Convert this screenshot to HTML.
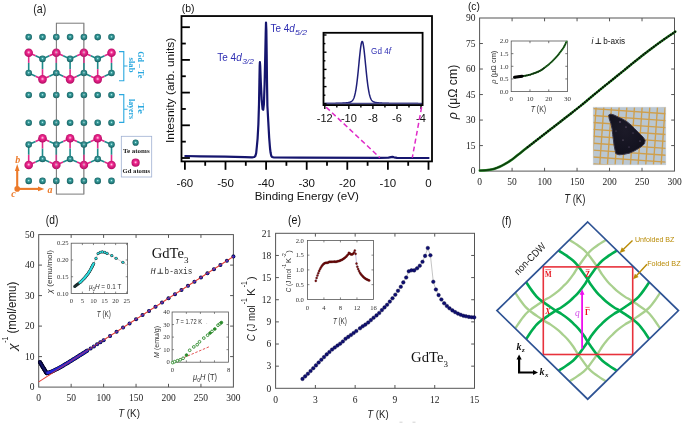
<!DOCTYPE html>
<html><head><meta charset="utf-8"><style>
html,body{margin:0;padding:0;background:#fff;width:685px;height:424px;overflow:hidden}
svg{display:block;will-change:transform}
</style></head><body>
<svg width="685" height="424" viewBox="0 0 685 424">
<rect width="685" height="424" fill="#fff"/>
<defs>
<radialGradient id="gTe" cx="0.5" cy="0.45" r="0.55">
 <stop offset="0" stop-color="#c8f4f2"/><stop offset="0.3" stop-color="#3a9f9f"/><stop offset="1" stop-color="#125c5d"/>
</radialGradient>
<radialGradient id="gGd" cx="0.5" cy="0.45" r="0.55">
 <stop offset="0" stop-color="#ffd0ea"/><stop offset="0.35" stop-color="#f0288f"/><stop offset="1" stop-color="#b00a62"/>
</radialGradient>
<clipPath id="dia"><polygon points="587.7,222 678.45,310.6 587.7,399.2 496.95,310.6"/></clipPath>

</defs>
<text x="33.30" y="12.90" style="font-family:'Liberation Sans',sans-serif;font-size:12px" fill="#1a1a1a" textLength="13.00" lengthAdjust="spacingAndGlyphs" >(a)</text>
<rect x="56.4" y="23.2" width="27.4" height="170.9" fill="none" stroke="#7a7a7a" stroke-width="1"/>
<line x1="84.3" y1="23.2" x2="84.3" y2="194.1" stroke="#c8c8c8" stroke-width="1"/>
<line x1="28.70" y1="52.80" x2="28.70" y2="62.90" stroke="#e0288a" stroke-width="1.6" />
<line x1="28.70" y1="62.90" x2="28.70" y2="73.00" stroke="#1d8a8a" stroke-width="1.6" />
<line x1="42.50" y1="58.90" x2="42.50" y2="69.15" stroke="#1d8a8a" stroke-width="1.6" />
<line x1="42.50" y1="69.15" x2="42.50" y2="79.40" stroke="#e0288a" stroke-width="1.6" />
<line x1="56.30" y1="52.80" x2="56.30" y2="62.90" stroke="#e0288a" stroke-width="1.6" />
<line x1="56.30" y1="62.90" x2="56.30" y2="73.00" stroke="#1d8a8a" stroke-width="1.6" />
<line x1="70.10" y1="58.90" x2="70.10" y2="69.15" stroke="#1d8a8a" stroke-width="1.6" />
<line x1="70.10" y1="69.15" x2="70.10" y2="79.40" stroke="#e0288a" stroke-width="1.6" />
<line x1="83.90" y1="52.80" x2="83.90" y2="62.90" stroke="#e0288a" stroke-width="1.6" />
<line x1="83.90" y1="62.90" x2="83.90" y2="73.00" stroke="#1d8a8a" stroke-width="1.6" />
<line x1="97.70" y1="58.90" x2="97.70" y2="69.15" stroke="#1d8a8a" stroke-width="1.6" />
<line x1="97.70" y1="69.15" x2="97.70" y2="79.40" stroke="#e0288a" stroke-width="1.6" />
<line x1="111.50" y1="52.80" x2="111.50" y2="62.90" stroke="#e0288a" stroke-width="1.6" />
<line x1="111.50" y1="62.90" x2="111.50" y2="73.00" stroke="#1d8a8a" stroke-width="1.6" />
<line x1="28.70" y1="52.80" x2="35.60" y2="55.85" stroke="#e0288a" stroke-width="1.6" />
<line x1="35.60" y1="55.85" x2="42.50" y2="58.90" stroke="#1d8a8a" stroke-width="1.6" />
<line x1="28.70" y1="73.00" x2="35.60" y2="76.20" stroke="#1d8a8a" stroke-width="1.6" />
<line x1="35.60" y1="76.20" x2="42.50" y2="79.40" stroke="#e0288a" stroke-width="1.6" />
<line x1="42.50" y1="58.90" x2="49.40" y2="55.85" stroke="#1d8a8a" stroke-width="1.6" />
<line x1="49.40" y1="55.85" x2="56.30" y2="52.80" stroke="#e0288a" stroke-width="1.6" />
<line x1="42.50" y1="79.40" x2="49.40" y2="76.20" stroke="#e0288a" stroke-width="1.6" />
<line x1="49.40" y1="76.20" x2="56.30" y2="73.00" stroke="#1d8a8a" stroke-width="1.6" />
<line x1="56.30" y1="52.80" x2="63.20" y2="55.85" stroke="#e0288a" stroke-width="1.6" />
<line x1="63.20" y1="55.85" x2="70.10" y2="58.90" stroke="#1d8a8a" stroke-width="1.6" />
<line x1="56.30" y1="73.00" x2="63.20" y2="76.20" stroke="#1d8a8a" stroke-width="1.6" />
<line x1="63.20" y1="76.20" x2="70.10" y2="79.40" stroke="#e0288a" stroke-width="1.6" />
<line x1="70.10" y1="58.90" x2="77.00" y2="55.85" stroke="#1d8a8a" stroke-width="1.6" />
<line x1="77.00" y1="55.85" x2="83.90" y2="52.80" stroke="#e0288a" stroke-width="1.6" />
<line x1="70.10" y1="79.40" x2="77.00" y2="76.20" stroke="#e0288a" stroke-width="1.6" />
<line x1="77.00" y1="76.20" x2="83.90" y2="73.00" stroke="#1d8a8a" stroke-width="1.6" />
<line x1="83.90" y1="52.80" x2="90.80" y2="55.85" stroke="#e0288a" stroke-width="1.6" />
<line x1="90.80" y1="55.85" x2="97.70" y2="58.90" stroke="#1d8a8a" stroke-width="1.6" />
<line x1="83.90" y1="73.00" x2="90.80" y2="76.20" stroke="#1d8a8a" stroke-width="1.6" />
<line x1="90.80" y1="76.20" x2="97.70" y2="79.40" stroke="#e0288a" stroke-width="1.6" />
<line x1="97.70" y1="58.90" x2="104.60" y2="55.85" stroke="#1d8a8a" stroke-width="1.6" />
<line x1="104.60" y1="55.85" x2="111.50" y2="52.80" stroke="#e0288a" stroke-width="1.6" />
<line x1="97.70" y1="79.40" x2="104.60" y2="76.20" stroke="#e0288a" stroke-width="1.6" />
<line x1="104.60" y1="76.20" x2="111.50" y2="73.00" stroke="#1d8a8a" stroke-width="1.6" />
<line x1="28.70" y1="144.60" x2="28.70" y2="154.80" stroke="#1d8a8a" stroke-width="1.6" />
<line x1="28.70" y1="154.80" x2="28.70" y2="165.00" stroke="#e0288a" stroke-width="1.6" />
<line x1="42.50" y1="138.20" x2="42.50" y2="148.60" stroke="#e0288a" stroke-width="1.6" />
<line x1="42.50" y1="148.60" x2="42.50" y2="159.00" stroke="#1d8a8a" stroke-width="1.6" />
<line x1="56.30" y1="144.60" x2="56.30" y2="154.80" stroke="#1d8a8a" stroke-width="1.6" />
<line x1="56.30" y1="154.80" x2="56.30" y2="165.00" stroke="#e0288a" stroke-width="1.6" />
<line x1="70.10" y1="138.20" x2="70.10" y2="148.60" stroke="#e0288a" stroke-width="1.6" />
<line x1="70.10" y1="148.60" x2="70.10" y2="159.00" stroke="#1d8a8a" stroke-width="1.6" />
<line x1="83.90" y1="144.60" x2="83.90" y2="154.80" stroke="#1d8a8a" stroke-width="1.6" />
<line x1="83.90" y1="154.80" x2="83.90" y2="165.00" stroke="#e0288a" stroke-width="1.6" />
<line x1="97.70" y1="138.20" x2="97.70" y2="148.60" stroke="#e0288a" stroke-width="1.6" />
<line x1="97.70" y1="148.60" x2="97.70" y2="159.00" stroke="#1d8a8a" stroke-width="1.6" />
<line x1="111.50" y1="144.60" x2="111.50" y2="154.80" stroke="#1d8a8a" stroke-width="1.6" />
<line x1="111.50" y1="154.80" x2="111.50" y2="165.00" stroke="#e0288a" stroke-width="1.6" />
<line x1="28.70" y1="144.60" x2="35.60" y2="141.40" stroke="#1d8a8a" stroke-width="1.6" />
<line x1="35.60" y1="141.40" x2="42.50" y2="138.20" stroke="#e0288a" stroke-width="1.6" />
<line x1="28.70" y1="165.00" x2="35.60" y2="162.00" stroke="#e0288a" stroke-width="1.6" />
<line x1="35.60" y1="162.00" x2="42.50" y2="159.00" stroke="#1d8a8a" stroke-width="1.6" />
<line x1="42.50" y1="138.20" x2="49.40" y2="141.40" stroke="#e0288a" stroke-width="1.6" />
<line x1="49.40" y1="141.40" x2="56.30" y2="144.60" stroke="#1d8a8a" stroke-width="1.6" />
<line x1="42.50" y1="159.00" x2="49.40" y2="162.00" stroke="#1d8a8a" stroke-width="1.6" />
<line x1="49.40" y1="162.00" x2="56.30" y2="165.00" stroke="#e0288a" stroke-width="1.6" />
<line x1="56.30" y1="144.60" x2="63.20" y2="141.40" stroke="#1d8a8a" stroke-width="1.6" />
<line x1="63.20" y1="141.40" x2="70.10" y2="138.20" stroke="#e0288a" stroke-width="1.6" />
<line x1="56.30" y1="165.00" x2="63.20" y2="162.00" stroke="#e0288a" stroke-width="1.6" />
<line x1="63.20" y1="162.00" x2="70.10" y2="159.00" stroke="#1d8a8a" stroke-width="1.6" />
<line x1="70.10" y1="138.20" x2="77.00" y2="141.40" stroke="#e0288a" stroke-width="1.6" />
<line x1="77.00" y1="141.40" x2="83.90" y2="144.60" stroke="#1d8a8a" stroke-width="1.6" />
<line x1="70.10" y1="159.00" x2="77.00" y2="162.00" stroke="#1d8a8a" stroke-width="1.6" />
<line x1="77.00" y1="162.00" x2="83.90" y2="165.00" stroke="#e0288a" stroke-width="1.6" />
<line x1="83.90" y1="144.60" x2="90.80" y2="141.40" stroke="#1d8a8a" stroke-width="1.6" />
<line x1="90.80" y1="141.40" x2="97.70" y2="138.20" stroke="#e0288a" stroke-width="1.6" />
<line x1="83.90" y1="165.00" x2="90.80" y2="162.00" stroke="#e0288a" stroke-width="1.6" />
<line x1="90.80" y1="162.00" x2="97.70" y2="159.00" stroke="#1d8a8a" stroke-width="1.6" />
<line x1="97.70" y1="138.20" x2="104.60" y2="141.40" stroke="#e0288a" stroke-width="1.6" />
<line x1="104.60" y1="141.40" x2="111.50" y2="144.60" stroke="#1d8a8a" stroke-width="1.6" />
<line x1="97.70" y1="159.00" x2="104.60" y2="162.00" stroke="#1d8a8a" stroke-width="1.6" />
<line x1="104.60" y1="162.00" x2="111.50" y2="165.00" stroke="#e0288a" stroke-width="1.6" />
<circle cx="28.70" cy="52.80" r="4.3" fill="url(#gGd)"/>
<circle cx="28.70" cy="73.00" r="3.3" fill="url(#gTe)"/>
<circle cx="42.50" cy="58.90" r="3.3" fill="url(#gTe)"/>
<circle cx="42.50" cy="79.40" r="4.3" fill="url(#gGd)"/>
<circle cx="56.30" cy="52.80" r="4.3" fill="url(#gGd)"/>
<circle cx="56.30" cy="73.00" r="3.3" fill="url(#gTe)"/>
<circle cx="70.10" cy="58.90" r="3.3" fill="url(#gTe)"/>
<circle cx="70.10" cy="79.40" r="4.3" fill="url(#gGd)"/>
<circle cx="83.90" cy="52.80" r="4.3" fill="url(#gGd)"/>
<circle cx="83.90" cy="73.00" r="3.3" fill="url(#gTe)"/>
<circle cx="97.70" cy="58.90" r="3.3" fill="url(#gTe)"/>
<circle cx="97.70" cy="79.40" r="4.3" fill="url(#gGd)"/>
<circle cx="111.50" cy="52.80" r="4.3" fill="url(#gGd)"/>
<circle cx="111.50" cy="73.00" r="3.3" fill="url(#gTe)"/>
<circle cx="28.70" cy="144.60" r="3.3" fill="url(#gTe)"/>
<circle cx="28.70" cy="165.00" r="4.3" fill="url(#gGd)"/>
<circle cx="42.50" cy="138.20" r="4.3" fill="url(#gGd)"/>
<circle cx="42.50" cy="159.00" r="3.3" fill="url(#gTe)"/>
<circle cx="56.30" cy="144.60" r="3.3" fill="url(#gTe)"/>
<circle cx="56.30" cy="165.00" r="4.3" fill="url(#gGd)"/>
<circle cx="70.10" cy="138.20" r="4.3" fill="url(#gGd)"/>
<circle cx="70.10" cy="159.00" r="3.3" fill="url(#gTe)"/>
<circle cx="83.90" cy="144.60" r="3.3" fill="url(#gTe)"/>
<circle cx="83.90" cy="165.00" r="4.3" fill="url(#gGd)"/>
<circle cx="97.70" cy="138.20" r="4.3" fill="url(#gGd)"/>
<circle cx="97.70" cy="159.00" r="3.3" fill="url(#gTe)"/>
<circle cx="111.50" cy="144.60" r="3.3" fill="url(#gTe)"/>
<circle cx="111.50" cy="165.00" r="4.3" fill="url(#gGd)"/>
<circle cx="28.70" cy="37.10" r="3.3" fill="url(#gTe)"/>
<circle cx="42.50" cy="37.10" r="3.3" fill="url(#gTe)"/>
<circle cx="56.30" cy="37.10" r="3.3" fill="url(#gTe)"/>
<circle cx="70.10" cy="37.10" r="3.3" fill="url(#gTe)"/>
<circle cx="83.90" cy="37.10" r="3.3" fill="url(#gTe)"/>
<circle cx="97.70" cy="37.10" r="3.3" fill="url(#gTe)"/>
<circle cx="111.50" cy="37.10" r="3.3" fill="url(#gTe)"/>
<circle cx="28.70" cy="95.00" r="3.3" fill="url(#gTe)"/>
<circle cx="42.50" cy="95.00" r="3.3" fill="url(#gTe)"/>
<circle cx="56.30" cy="95.00" r="3.3" fill="url(#gTe)"/>
<circle cx="70.10" cy="95.00" r="3.3" fill="url(#gTe)"/>
<circle cx="83.90" cy="95.00" r="3.3" fill="url(#gTe)"/>
<circle cx="97.70" cy="95.00" r="3.3" fill="url(#gTe)"/>
<circle cx="111.50" cy="95.00" r="3.3" fill="url(#gTe)"/>
<circle cx="28.70" cy="122.70" r="3.3" fill="url(#gTe)"/>
<circle cx="42.50" cy="122.70" r="3.3" fill="url(#gTe)"/>
<circle cx="56.30" cy="122.70" r="3.3" fill="url(#gTe)"/>
<circle cx="70.10" cy="122.70" r="3.3" fill="url(#gTe)"/>
<circle cx="83.90" cy="122.70" r="3.3" fill="url(#gTe)"/>
<circle cx="97.70" cy="122.70" r="3.3" fill="url(#gTe)"/>
<circle cx="111.50" cy="122.70" r="3.3" fill="url(#gTe)"/>
<circle cx="28.70" cy="180.90" r="3.3" fill="url(#gTe)"/>
<circle cx="42.50" cy="180.90" r="3.3" fill="url(#gTe)"/>
<circle cx="56.30" cy="180.90" r="3.3" fill="url(#gTe)"/>
<circle cx="70.10" cy="180.90" r="3.3" fill="url(#gTe)"/>
<circle cx="83.90" cy="180.90" r="3.3" fill="url(#gTe)"/>
<circle cx="97.70" cy="180.90" r="3.3" fill="url(#gTe)"/>
<circle cx="111.50" cy="180.90" r="3.3" fill="url(#gTe)"/>
<path d="M56.4,23.2 V194.1 M83.8,23.2 V194.1" stroke="#7a7a7a" stroke-width="0.8" opacity="0.45" fill="none"/>
<path d="M119,51.6 H123.8 V80.7 H119 M123.8,66 H127.5" fill="none" stroke="#2aa8df" stroke-width="1.1"/>
<path d="M119,94.6 H123.8 V122.4 H119 M123.8,109.2 H127.5" fill="none" stroke="#2aa8df" stroke-width="1.1"/>
<text x="138.30" y="64.80" style="font-family:'Liberation Serif',serif;font-size:8.4px;font-weight:bold" fill="#2aa8df" text-anchor="middle" textLength="27.00" lengthAdjust="spacingAndGlyphs" transform="rotate(90 138.30 64.80)" >Gd – Te</text>
<text x="129.00" y="65.00" style="font-family:'Liberation Serif',serif;font-size:8.4px;font-weight:bold" fill="#2aa8df" text-anchor="middle" textLength="15.00" lengthAdjust="spacingAndGlyphs" transform="rotate(90 129.00 65.00)" >slab</text>
<text x="138.30" y="108.60" style="font-family:'Liberation Serif',serif;font-size:8.4px;font-weight:bold" fill="#2aa8df" text-anchor="middle" textLength="10.80" lengthAdjust="spacingAndGlyphs" transform="rotate(90 138.30 108.60)" >Te</text>
<text x="129.00" y="109.00" style="font-family:'Liberation Serif',serif;font-size:8.4px;font-weight:bold" fill="#2aa8df" text-anchor="middle" textLength="20.00" lengthAdjust="spacingAndGlyphs" transform="rotate(90 129.00 109.00)" >layers</text>
<rect x="121.3" y="136.3" width="30.4" height="40.7" fill="#fff" stroke="#9fb0d2" stroke-width="0.8"/>
<circle cx="135.6" cy="142.7" r="3.1" fill="url(#gTe)"/>
<circle cx="135.6" cy="162.7" r="4.1" fill="url(#gGd)"/>
<text x="136.30" y="153.10" style="font-family:'Liberation Serif',serif;font-size:6.9px;font-weight:bold" fill="#222" text-anchor="middle" textLength="26.80" lengthAdjust="spacingAndGlyphs" >Te atoms</text>
<text x="136.30" y="172.50" style="font-family:'Liberation Serif',serif;font-size:6.9px;font-weight:bold" fill="#222" text-anchor="middle" textLength="27.50" lengthAdjust="spacingAndGlyphs" >Gd atoms</text>
<line x1="17.20" y1="188.90" x2="17.20" y2="170.50" stroke="#ec7a2a" stroke-width="2.1" />
<line x1="17.20" y1="188.90" x2="39.00" y2="188.90" stroke="#ec7a2a" stroke-width="2.1" />
<polygon points="17.2,164 14.9,171 19.5,171" fill="#ec7a2a"/>
<polygon points="44.4,188.9 38,186.6 38,191.2" fill="#ec7a2a"/>
<circle cx="17.2" cy="188.9" r="2.8" fill="#ec7a2a"/>
<text x="15.30" y="162.80" style="font-family:'Liberation Serif',serif;font-size:10px;font-weight:bold;font-style:italic" fill="#ec7a2a" >b</text>
<text x="47.60" y="193.30" style="font-family:'Liberation Serif',serif;font-size:10px;font-weight:bold;font-style:italic" fill="#ec7a2a" >a</text>
<text x="11.20" y="196.60" style="font-family:'Liberation Serif',serif;font-size:10px;font-weight:bold;font-style:italic" fill="#ec7a2a" >c</text>
<text x="181.70" y="11.60" style="font-family:'Liberation Sans',sans-serif;font-size:11.5px" fill="#111" textLength="12.80" lengthAdjust="spacingAndGlyphs" >(b)</text>
<polyline points="185.30,156.00 200.00,156.30 225.00,156.70 245.00,157.10 252.00,157.30 254.30,157.00 255.40,155.90 256.20,153.00 256.90,146.00 257.60,138.50 258.40,124.00 259.00,104.00 259.40,82.00 259.70,66.00 259.90,62.20 260.20,66.00 260.80,82.00 261.70,100.00 262.60,109.20 263.20,109.80 263.90,104.00 264.60,84.00 265.20,58.00 265.70,34.00 266.00,22.60 266.35,30.00 266.70,55.00 267.00,82.00 267.40,106.00 268.30,122.00 269.20,138.00 270.00,148.00 270.60,152.80 271.20,155.60 272.00,157.00 274.00,157.50 300.00,157.70 380.00,157.90 388.50,157.70 391.00,157.20 392.50,156.90 394.00,157.30 397.00,157.80 428.50,158.00" fill="none" stroke="#15156e" stroke-width="2.2" stroke-linejoin="round" stroke-linecap="round" />
<rect x="181.5" y="16.05" width="250.5" height="145.35" fill="none" stroke="#000" stroke-width="1.8"/>
<line x1="181.50" y1="27.20" x2="189.90" y2="27.20" stroke="#000" stroke-width="1.8" />
<line x1="181.50" y1="43.55" x2="185.80" y2="43.55" stroke="#000" stroke-width="1.8" />
<line x1="181.50" y1="59.90" x2="189.90" y2="59.90" stroke="#000" stroke-width="1.8" />
<line x1="181.50" y1="76.25" x2="185.80" y2="76.25" stroke="#000" stroke-width="1.8" />
<line x1="181.50" y1="92.60" x2="189.90" y2="92.60" stroke="#000" stroke-width="1.8" />
<line x1="181.50" y1="108.95" x2="185.80" y2="108.95" stroke="#000" stroke-width="1.8" />
<line x1="181.50" y1="125.30" x2="189.90" y2="125.30" stroke="#000" stroke-width="1.8" />
<line x1="181.50" y1="141.65" x2="185.80" y2="141.65" stroke="#000" stroke-width="1.8" />
<line x1="181.50" y1="158.00" x2="189.90" y2="158.00" stroke="#000" stroke-width="1.8" />
<line x1="184.90" y1="161.40" x2="184.90" y2="169.80" stroke="#000" stroke-width="1.8" />
<line x1="205.20" y1="161.40" x2="205.20" y2="165.80" stroke="#000" stroke-width="1.8" />
<line x1="225.50" y1="161.40" x2="225.50" y2="169.80" stroke="#000" stroke-width="1.8" />
<line x1="245.80" y1="161.40" x2="245.80" y2="165.80" stroke="#000" stroke-width="1.8" />
<line x1="266.10" y1="161.40" x2="266.10" y2="169.80" stroke="#000" stroke-width="1.8" />
<line x1="286.40" y1="161.40" x2="286.40" y2="165.80" stroke="#000" stroke-width="1.8" />
<line x1="306.70" y1="161.40" x2="306.70" y2="169.80" stroke="#000" stroke-width="1.8" />
<line x1="327.00" y1="161.40" x2="327.00" y2="165.80" stroke="#000" stroke-width="1.8" />
<line x1="347.30" y1="161.40" x2="347.30" y2="169.80" stroke="#000" stroke-width="1.8" />
<line x1="367.60" y1="161.40" x2="367.60" y2="165.80" stroke="#000" stroke-width="1.8" />
<line x1="387.90" y1="161.40" x2="387.90" y2="169.80" stroke="#000" stroke-width="1.8" />
<line x1="408.20" y1="161.40" x2="408.20" y2="165.80" stroke="#000" stroke-width="1.8" />
<line x1="428.50" y1="161.40" x2="428.50" y2="169.80" stroke="#000" stroke-width="1.8" />
<text x="184.90" y="187.20" style="font-family:'Liberation Sans',sans-serif;font-size:11.5px" fill="#111" text-anchor="middle" >-60</text>
<text x="225.50" y="187.20" style="font-family:'Liberation Sans',sans-serif;font-size:11.5px" fill="#111" text-anchor="middle" >-50</text>
<text x="266.10" y="187.20" style="font-family:'Liberation Sans',sans-serif;font-size:11.5px" fill="#111" text-anchor="middle" >-40</text>
<text x="306.70" y="187.20" style="font-family:'Liberation Sans',sans-serif;font-size:11.5px" fill="#111" text-anchor="middle" >-30</text>
<text x="347.30" y="187.20" style="font-family:'Liberation Sans',sans-serif;font-size:11.5px" fill="#111" text-anchor="middle" >-20</text>
<text x="387.90" y="187.20" style="font-family:'Liberation Sans',sans-serif;font-size:11.5px" fill="#111" text-anchor="middle" >-10</text>
<text x="428.50" y="187.20" style="font-family:'Liberation Sans',sans-serif;font-size:11.5px" fill="#111" text-anchor="middle" >0</text>
<text x="306.85" y="199.90" style="font-family:'Liberation Sans',sans-serif;font-size:11.5px" fill="#111" text-anchor="middle" textLength="104.00" lengthAdjust="spacingAndGlyphs" >Binding Energy (eV)</text>
<text x="174.10" y="90.40" style="font-family:'Liberation Sans',sans-serif;font-size:11px" fill="#111" text-anchor="middle" textLength="105.40" lengthAdjust="spacingAndGlyphs" transform="rotate(-90 174.10 90.40)" >Intesnity (arb. units)</text>
<text x="270.6" y="31.8" style="font-family:'Liberation Sans',sans-serif;font-size:10.4px" fill="#2d2db2" textLength="24.1" lengthAdjust="spacingAndGlyphs">Te 4<tspan font-style="italic">d</tspan></text>
<text x="295.0" y="34.8" style="font-family:'Liberation Sans',sans-serif;font-size:7.6px;font-style:italic" fill="#2d2db2" textLength="12.0" lengthAdjust="spacingAndGlyphs">5/2</text>
<text x="217.3" y="61.0" style="font-family:'Liberation Sans',sans-serif;font-size:10.4px" fill="#2d2db2" textLength="24.4" lengthAdjust="spacingAndGlyphs">Te 4<tspan font-style="italic">d</tspan></text>
<text x="242.2" y="64.0" style="font-family:'Liberation Sans',sans-serif;font-size:7.6px;font-style:italic" fill="#2d2db2" textLength="11.6" lengthAdjust="spacingAndGlyphs">3/2</text>
<rect x="323.5" y="32.8" width="99.1" height="72.3" fill="#fff" stroke="none"/>
<polyline points="324.30,103.54 324.30,103.54 324.30,103.54 324.34,103.54 324.58,103.54 324.83,103.53 325.08,103.53 325.32,103.53 325.57,103.53 325.82,103.52 326.06,103.52 326.31,103.52 326.56,103.52 326.80,103.51 327.05,103.51 327.30,103.51 327.54,103.51 327.79,103.50 328.03,103.50 328.28,103.50 328.53,103.49 328.77,103.49 329.02,103.49 329.27,103.49 329.51,103.48 329.76,103.48 330.01,103.48 330.25,103.47 330.50,103.47 330.75,103.47 330.99,103.46 331.24,103.46 331.49,103.45 331.73,103.45 331.98,103.45 332.23,103.44 332.47,103.44 332.72,103.43 332.96,103.43 333.21,103.42 333.46,103.42 333.70,103.42 333.95,103.41 334.20,103.41 334.44,103.40 334.69,103.40 334.94,103.39 335.18,103.38 335.43,103.38 335.68,103.37 335.92,103.37 336.17,103.36 336.42,103.35 336.66,103.35 336.91,103.34 337.16,103.33 337.40,103.33 337.65,103.32 337.90,103.31 338.14,103.30 338.39,103.30 338.63,103.29 338.88,103.28 339.13,103.27 339.37,103.26 339.62,103.25 339.87,103.24 340.11,103.23 340.36,103.22 340.61,103.21 340.85,103.20 341.10,103.19 341.35,103.18 341.59,103.17 341.84,103.15 342.09,103.14 342.33,103.13 342.58,103.11 342.83,103.10 343.07,103.08 343.32,103.07 343.57,103.05 343.81,103.04 344.06,103.02 344.30,103.00 344.55,102.98 344.80,102.96 345.04,102.94 345.29,102.92 345.54,102.90 345.78,102.88 346.03,102.85 346.28,102.83 346.52,102.80 346.77,102.77 347.02,102.74 347.26,102.71 347.51,102.68 347.76,102.64 348.00,102.61 348.25,102.57 348.50,102.52 348.74,102.48 348.99,102.43 349.23,102.37 349.48,102.31 349.73,102.24 349.97,102.17 350.22,102.08 350.47,101.99 350.71,101.88 350.96,101.75 351.21,101.62 351.45,101.46 351.70,101.27 351.95,101.06 352.19,100.83 352.44,100.55 352.69,100.24 352.93,99.88 353.18,99.47 353.43,99.00 353.67,98.47 353.92,97.87 354.17,97.20 354.41,96.44 354.66,95.59 354.90,94.64 355.15,93.59 355.40,92.44 355.64,91.16 355.89,89.77 356.14,88.26 356.38,86.62 356.63,84.86 356.88,82.99 357.12,80.99 357.37,78.88 357.62,76.67 357.86,74.36 358.11,71.97 358.36,69.51 358.60,67.01 358.85,64.48 359.10,61.94 359.34,59.43 359.59,56.95 359.83,54.56 360.08,52.27 360.33,50.11 360.57,48.13 360.82,46.34 361.07,44.80 361.31,43.51 361.56,42.51 361.81,41.82 362.05,41.46 362.30,41.43 362.55,41.73 362.79,42.36 363.04,43.30 363.29,44.53 363.53,46.03 363.78,47.77 364.03,49.72 364.27,51.85 364.52,54.11 364.77,56.49 365.01,58.95 365.26,61.47 365.50,64.00 365.75,66.54 366.00,69.04 366.24,71.51 366.49,73.91 366.74,76.24 366.98,78.47 367.23,80.60 367.48,82.62 367.72,84.52 367.97,86.30 368.22,87.96 368.46,89.49 368.71,90.91 368.96,92.20 369.20,93.38 369.45,94.45 369.70,95.42 369.94,96.29 370.19,97.06 370.43,97.75 370.68,98.37 370.93,98.91 371.17,99.39 371.42,99.80 371.67,100.17 371.91,100.49 372.16,100.78 372.41,101.02 372.65,101.24 372.90,101.42 373.15,101.59 373.39,101.73 373.64,101.86 373.89,101.97 374.13,102.06 374.38,102.15 374.63,102.23 374.87,102.30 375.12,102.36 375.37,102.42 375.61,102.47 375.86,102.51 376.10,102.56 376.35,102.60 376.60,102.64 376.84,102.67 377.09,102.71 377.34,102.74 377.58,102.77 377.83,102.79 378.08,102.82 378.32,102.85 378.57,102.87 378.82,102.89 379.06,102.92 379.31,102.94 379.56,102.96 379.80,102.98 380.05,103.00 380.30,103.02 380.54,103.03 380.79,103.05 381.03,103.07 381.28,103.08 381.53,103.10 381.77,103.11 382.02,103.12 382.27,103.14 382.51,103.15 382.76,103.16 383.01,103.18 383.25,103.19 383.50,103.20 383.75,103.21 383.99,103.22 384.24,103.23 384.49,103.24 384.73,103.25 384.98,103.26 385.23,103.27 385.47,103.28 385.72,103.29 385.97,103.29 386.21,103.30 386.46,103.31 386.70,103.32 386.95,103.33 387.20,103.33 387.44,103.34 387.69,103.35 387.94,103.35 388.18,103.36 388.43,103.37 388.68,103.37 388.92,103.38 389.17,103.38 389.42,103.39 389.66,103.39 389.91,103.40 390.16,103.40 390.40,103.41 390.65,103.41 390.90,103.42 391.14,103.42 391.39,103.43 391.63,103.43 391.88,103.44 392.13,103.44 392.37,103.45 392.62,103.45 392.87,103.45 393.11,103.46 393.36,103.46 393.61,103.46 393.85,103.47 394.10,103.47 394.35,103.48 394.59,103.48 394.84,103.48 395.09,103.49 395.33,103.49 395.58,103.49 395.83,103.49 396.07,103.50 396.32,103.50 396.57,103.50 396.81,103.51 397.06,103.51 397.30,103.51 397.55,103.51 397.80,103.52 398.04,103.52 398.29,103.52 398.54,103.52 398.78,103.53 399.03,103.53 399.28,103.53 399.52,103.53 399.77,103.53 400.02,103.54 400.26,103.54 400.51,103.54 400.76,103.54 401.00,103.54 401.25,103.55 401.50,103.55 401.74,103.55 401.99,103.55 402.23,103.55 402.48,103.56 402.73,103.56 402.97,103.56 403.22,103.56 403.47,103.56 403.71,103.56 403.96,103.57 404.21,103.57 404.45,103.57 404.70,103.57 404.95,103.57 405.19,103.57 405.44,103.57 405.69,103.58 405.93,103.58 406.18,103.58 406.43,103.58 406.67,103.58 406.92,103.58 407.17,103.58 407.41,103.59 407.66,103.59 407.90,103.59 408.15,103.59 408.40,103.59 408.64,103.59 408.89,103.59 409.14,103.59 409.38,103.59 409.63,103.60 409.88,103.60 410.12,103.60 410.37,103.60 410.62,103.60 410.86,103.60 411.11,103.60 411.36,103.60 411.60,103.60 411.85,103.60 412.10,103.61 412.34,103.61 412.59,103.61 412.84,103.61 413.08,103.61 413.33,103.61 413.57,103.61 413.82,103.61 414.07,103.61 414.31,103.61 414.56,103.61 414.81,103.62 415.05,103.62 415.30,103.62 415.55,103.62 415.79,103.62 416.04,103.62 416.29,103.62 416.53,103.62 416.78,103.62 417.03,103.62 417.27,103.62 417.52,103.62 417.77,103.62 418.01,103.62 418.26,103.63 418.50,103.63 418.75,103.63 419.00,103.63 419.24,103.63 419.49,103.63 419.74,103.63 419.98,103.63 420.23,103.63 420.48,103.63 420.72,103.63 420.97,103.63 421.22,103.63 421.46,103.63 421.71,103.63 421.96,103.63 422.00,103.63" fill="none" stroke="#1e1e78" stroke-width="1.5" stroke-linejoin="round" stroke-linecap="round" />
<line x1="324.40" y1="103.60" x2="421.80" y2="103.60" stroke="#4a4a8c" stroke-width="1.8" />
<rect x="323.5" y="32.8" width="99.1" height="72.3" fill="none" stroke="#000" stroke-width="1.8"/>
<line x1="323.50" y1="35.00" x2="326.50" y2="35.00" stroke="#000" stroke-width="1.4" />
<line x1="323.50" y1="43.60" x2="325.40" y2="43.60" stroke="#000" stroke-width="1.4" />
<line x1="323.50" y1="52.20" x2="326.50" y2="52.20" stroke="#000" stroke-width="1.4" />
<line x1="323.50" y1="60.80" x2="325.40" y2="60.80" stroke="#000" stroke-width="1.4" />
<line x1="323.50" y1="69.40" x2="326.50" y2="69.40" stroke="#000" stroke-width="1.4" />
<line x1="323.50" y1="78.00" x2="325.40" y2="78.00" stroke="#000" stroke-width="1.4" />
<line x1="323.50" y1="86.60" x2="326.50" y2="86.60" stroke="#000" stroke-width="1.4" />
<line x1="323.50" y1="95.20" x2="325.40" y2="95.20" stroke="#000" stroke-width="1.4" />
<line x1="323.50" y1="103.80" x2="326.50" y2="103.80" stroke="#000" stroke-width="1.4" />
<line x1="324.80" y1="105.10" x2="324.80" y2="109.10" stroke="#000" stroke-width="1.4" />
<line x1="336.82" y1="105.10" x2="336.82" y2="107.50" stroke="#000" stroke-width="1.4" />
<line x1="348.85" y1="105.10" x2="348.85" y2="109.10" stroke="#000" stroke-width="1.4" />
<line x1="360.88" y1="105.10" x2="360.88" y2="107.50" stroke="#000" stroke-width="1.4" />
<line x1="372.90" y1="105.10" x2="372.90" y2="109.10" stroke="#000" stroke-width="1.4" />
<line x1="384.93" y1="105.10" x2="384.93" y2="107.50" stroke="#000" stroke-width="1.4" />
<line x1="396.95" y1="105.10" x2="396.95" y2="109.10" stroke="#000" stroke-width="1.4" />
<line x1="408.98" y1="105.10" x2="408.98" y2="107.50" stroke="#000" stroke-width="1.4" />
<line x1="421.00" y1="105.10" x2="421.00" y2="109.10" stroke="#000" stroke-width="1.4" />
<text x="324.80" y="121.60" style="font-family:'Liberation Sans',sans-serif;font-size:11px" fill="#111" text-anchor="middle" >-12</text>
<text x="348.85" y="121.60" style="font-family:'Liberation Sans',sans-serif;font-size:11px" fill="#111" text-anchor="middle" >-10</text>
<text x="372.90" y="121.60" style="font-family:'Liberation Sans',sans-serif;font-size:11px" fill="#111" text-anchor="middle" >-8</text>
<text x="396.95" y="121.60" style="font-family:'Liberation Sans',sans-serif;font-size:11px" fill="#111" text-anchor="middle" >-6</text>
<text x="421.00" y="121.60" style="font-family:'Liberation Sans',sans-serif;font-size:11px" fill="#111" text-anchor="middle" >-4</text>
<text x="371.1" y="54.2" style="font-family:'Liberation Sans',sans-serif;font-size:9px" fill="#2d2db2" textLength="19.8" lengthAdjust="spacingAndGlyphs">Gd 4<tspan font-style="italic">f</tspan></text>
<line x1="326.20" y1="107.20" x2="379.80" y2="157.60" stroke="#e02ac8" stroke-width="1.5" stroke-dasharray="5,3"/>
<line x1="421.60" y1="107.20" x2="412.30" y2="157.60" stroke="#e02ac8" stroke-width="1.5" stroke-dasharray="5,3"/>
<text x="468.00" y="10.40" style="font-family:'Liberation Sans',sans-serif;font-size:11.3px" fill="#111" textLength="11.80" lengthAdjust="spacingAndGlyphs" >(c)</text>
<clipPath id="photo"><rect x="593.2" y="107.2" width="72.6" height="57.6"/></clipPath>
<rect x="593.2" y="107.2" width="72.6" height="57.6" fill="#bac7d2"/>
<g clip-path="url(#photo)"><g transform="rotate(4 629 136)">
<line x1="578.90" y1="95.00" x2="578.90" y2="178.00" stroke="#cf9f4c" stroke-width="1.35" />
<line x1="586.55" y1="95.00" x2="586.55" y2="178.00" stroke="#cf9f4c" stroke-width="1.35" />
<line x1="594.20" y1="95.00" x2="594.20" y2="178.00" stroke="#cf9f4c" stroke-width="1.35" />
<line x1="601.85" y1="95.00" x2="601.85" y2="178.00" stroke="#cf9f4c" stroke-width="1.35" />
<line x1="609.50" y1="95.00" x2="609.50" y2="178.00" stroke="#cf9f4c" stroke-width="1.35" />
<line x1="617.15" y1="95.00" x2="617.15" y2="178.00" stroke="#cf9f4c" stroke-width="1.35" />
<line x1="624.80" y1="95.00" x2="624.80" y2="178.00" stroke="#cf9f4c" stroke-width="1.35" />
<line x1="632.45" y1="95.00" x2="632.45" y2="178.00" stroke="#cf9f4c" stroke-width="1.35" />
<line x1="640.10" y1="95.00" x2="640.10" y2="178.00" stroke="#cf9f4c" stroke-width="1.35" />
<line x1="647.75" y1="95.00" x2="647.75" y2="178.00" stroke="#cf9f4c" stroke-width="1.35" />
<line x1="655.40" y1="95.00" x2="655.40" y2="178.00" stroke="#cf9f4c" stroke-width="1.35" />
<line x1="663.05" y1="95.00" x2="663.05" y2="178.00" stroke="#cf9f4c" stroke-width="1.35" />
<line x1="670.70" y1="95.00" x2="670.70" y2="178.00" stroke="#cf9f4c" stroke-width="1.35" />
<line x1="678.35" y1="95.00" x2="678.35" y2="178.00" stroke="#cf9f4c" stroke-width="1.35" />
<line x1="580.00" y1="90.50" x2="680.00" y2="90.50" stroke="#cf9f4c" stroke-width="1.35" />
<line x1="580.00" y1="97.40" x2="680.00" y2="97.40" stroke="#cf9f4c" stroke-width="1.35" />
<line x1="580.00" y1="104.30" x2="680.00" y2="104.30" stroke="#cf9f4c" stroke-width="1.35" />
<line x1="580.00" y1="111.20" x2="680.00" y2="111.20" stroke="#cf9f4c" stroke-width="1.35" />
<line x1="580.00" y1="118.10" x2="680.00" y2="118.10" stroke="#cf9f4c" stroke-width="1.35" />
<line x1="580.00" y1="125.00" x2="680.00" y2="125.00" stroke="#cf9f4c" stroke-width="1.35" />
<line x1="580.00" y1="131.90" x2="680.00" y2="131.90" stroke="#cf9f4c" stroke-width="1.35" />
<line x1="580.00" y1="138.80" x2="680.00" y2="138.80" stroke="#cf9f4c" stroke-width="1.35" />
<line x1="580.00" y1="145.70" x2="680.00" y2="145.70" stroke="#cf9f4c" stroke-width="1.35" />
<line x1="580.00" y1="152.60" x2="680.00" y2="152.60" stroke="#cf9f4c" stroke-width="1.35" />
<line x1="580.00" y1="159.50" x2="680.00" y2="159.50" stroke="#cf9f4c" stroke-width="1.35" />
<line x1="580.00" y1="166.40" x2="680.00" y2="166.40" stroke="#cf9f4c" stroke-width="1.35" />
<line x1="580.00" y1="173.30" x2="680.00" y2="173.30" stroke="#cf9f4c" stroke-width="1.35" />
<line x1="580.00" y1="180.20" x2="680.00" y2="180.20" stroke="#cf9f4c" stroke-width="1.35" />
</g></g>
<rect x="593.2" y="107.2" width="72.6" height="57.6" fill="none" stroke="#c5ccd2" stroke-width="0.6"/>
<radialGradient id="gcry" cx="0.45" cy="0.4" r="0.7"><stop offset="0" stop-color="#1c1a28"/><stop offset="0.7" stop-color="#141320"/><stop offset="1" stop-color="#100f18"/></radialGradient>
<polygon points="608.7,115 610.8,114.1 614,115 619.1,117.5 623.5,119.5 627.4,122 631.2,125.2 634.4,128.4 638.2,132.2 640.7,134.7 643.3,137.3 645.2,140.4 644.5,143.6 642,146.2 638.2,148.7 633.7,151.3 629.3,153.2 623.5,154.4 619.1,154.8 615.9,153.8 615,150 614,144.9 613.4,139.8 612.7,134.7 612.1,129 610.8,123.3 609.2,118.8" fill="url(#gcry)" stroke="#3c3648" stroke-width="1.0"/>
<circle cx="620" cy="122" r="0.7" fill="#8a7090"/>
<circle cx="626" cy="127" r="0.6" fill="#9a80a0"/>
<circle cx="633" cy="133" r="0.5" fill="#7a6a8a"/>
<circle cx="623" cy="140" r="0.6" fill="#9a8aa0"/>
<circle cx="629" cy="147" r="0.5" fill="#807090"/>
<circle cx="640" cy="141" r="0.6" fill="#8a7a9a"/>
<circle cx="616" cy="131" r="0.5" fill="#706080"/>
<rect x="479.6" y="18.0" width="194.9" height="153.1" fill="none" stroke="#555555" stroke-width="1"/>
<line x1="512.09" y1="171.10" x2="512.09" y2="167.80" stroke="#555555" stroke-width="1" />
<line x1="512.09" y1="18.00" x2="512.09" y2="21.30" stroke="#555555" stroke-width="1" />
<line x1="544.57" y1="171.10" x2="544.57" y2="167.80" stroke="#555555" stroke-width="1" />
<line x1="544.57" y1="18.00" x2="544.57" y2="21.30" stroke="#555555" stroke-width="1" />
<line x1="577.06" y1="171.10" x2="577.06" y2="167.80" stroke="#555555" stroke-width="1" />
<line x1="577.06" y1="18.00" x2="577.06" y2="21.30" stroke="#555555" stroke-width="1" />
<line x1="609.54" y1="171.10" x2="609.54" y2="167.80" stroke="#555555" stroke-width="1" />
<line x1="609.54" y1="18.00" x2="609.54" y2="21.30" stroke="#555555" stroke-width="1" />
<line x1="642.03" y1="171.10" x2="642.03" y2="167.80" stroke="#555555" stroke-width="1" />
<line x1="642.03" y1="18.00" x2="642.03" y2="21.30" stroke="#555555" stroke-width="1" />
<line x1="479.60" y1="145.58" x2="482.90" y2="145.58" stroke="#555555" stroke-width="1" />
<line x1="674.50" y1="145.58" x2="671.20" y2="145.58" stroke="#555555" stroke-width="1" />
<line x1="479.60" y1="120.07" x2="482.90" y2="120.07" stroke="#555555" stroke-width="1" />
<line x1="674.50" y1="120.07" x2="671.20" y2="120.07" stroke="#555555" stroke-width="1" />
<line x1="479.60" y1="94.55" x2="482.90" y2="94.55" stroke="#555555" stroke-width="1" />
<line x1="674.50" y1="94.55" x2="671.20" y2="94.55" stroke="#555555" stroke-width="1" />
<line x1="479.60" y1="69.03" x2="482.90" y2="69.03" stroke="#555555" stroke-width="1" />
<line x1="674.50" y1="69.03" x2="671.20" y2="69.03" stroke="#555555" stroke-width="1" />
<line x1="479.60" y1="43.52" x2="482.90" y2="43.52" stroke="#555555" stroke-width="1" />
<line x1="674.50" y1="43.52" x2="671.20" y2="43.52" stroke="#555555" stroke-width="1" />
<text x="475.40" y="174.40" style="font-family:'Liberation Serif',serif;font-size:9.5px" fill="#222" text-anchor="end" >0</text>
<text x="475.40" y="148.88" style="font-family:'Liberation Serif',serif;font-size:9.5px" fill="#222" text-anchor="end" >15</text>
<text x="475.40" y="123.37" style="font-family:'Liberation Serif',serif;font-size:9.5px" fill="#222" text-anchor="end" >30</text>
<text x="475.40" y="97.85" style="font-family:'Liberation Serif',serif;font-size:9.5px" fill="#222" text-anchor="end" >45</text>
<text x="475.40" y="72.33" style="font-family:'Liberation Serif',serif;font-size:9.5px" fill="#222" text-anchor="end" >60</text>
<text x="475.40" y="46.82" style="font-family:'Liberation Serif',serif;font-size:9.5px" fill="#222" text-anchor="end" >75</text>
<text x="475.40" y="21.30" style="font-family:'Liberation Serif',serif;font-size:9.5px" fill="#222" text-anchor="end" >90</text>
<text x="479.60" y="185.00" style="font-family:'Liberation Serif',serif;font-size:9.5px" fill="#222" text-anchor="middle" >0</text>
<text x="512.09" y="185.00" style="font-family:'Liberation Serif',serif;font-size:9.5px" fill="#222" text-anchor="middle" >50</text>
<text x="544.57" y="185.00" style="font-family:'Liberation Serif',serif;font-size:9.5px" fill="#222" text-anchor="middle" >100</text>
<text x="577.06" y="185.00" style="font-family:'Liberation Serif',serif;font-size:9.5px" fill="#222" text-anchor="middle" >150</text>
<text x="609.54" y="185.00" style="font-family:'Liberation Serif',serif;font-size:9.5px" fill="#222" text-anchor="middle" >200</text>
<text x="642.03" y="185.00" style="font-family:'Liberation Serif',serif;font-size:9.5px" fill="#222" text-anchor="middle" >250</text>
<text x="674.51" y="185.00" style="font-family:'Liberation Serif',serif;font-size:9.5px" fill="#222" text-anchor="middle" >300</text>
<text x="574.8" y="202.7" style="font-family:'Liberation Sans',sans-serif;font-size:12px" fill="#222" text-anchor="middle" textLength="21.3" lengthAdjust="spacingAndGlyphs"><tspan font-style="italic">T</tspan> (K)</text>
<text x="457.0" y="92.0" style="font-family:'Liberation Sans',sans-serif;font-size:12.5px" fill="#222" text-anchor="middle" textLength="54.5" lengthAdjust="spacingAndGlyphs" transform="rotate(-90 457 92)"><tspan font-style="italic">ρ</tspan> (μΩ cm)</text>
<text x="591.5" y="44.0" style="font-family:'Liberation Sans',sans-serif;font-size:8.3px;font-style:italic" fill="#111">i</text>
<path d="M598.3,38.2 V43.5 M595.4,43.5 H601.2" stroke="#111" stroke-width="0.85" fill="none"/>
<text x="603.3" y="44.0" style="font-family:'Liberation Sans',sans-serif;font-size:8.3px" fill="#111" textLength="21.8" lengthAdjust="spacingAndGlyphs">b-axis</text>
<path d="M479.80,170.40 C480.83,170.37 483.85,170.40 486.00,170.20 C488.15,170.00 490.87,169.60 492.70,169.20 C494.53,168.80 495.53,168.37 497.00,167.80 C498.47,167.23 500.00,166.53 501.50,165.80 C503.00,165.07 504.52,164.27 506.00,163.40 C507.48,162.53 508.90,161.63 510.40,160.60 C511.90,159.57 513.53,158.32 515.00,157.20 C516.47,156.08 517.32,155.40 519.20,153.90 C521.08,152.40 523.63,150.30 526.30,148.20 C528.97,146.10 532.25,143.60 535.20,141.30 C538.15,139.00 540.77,136.92 544.00,134.40 C547.23,131.88 551.35,128.72 554.60,126.20 C557.85,123.68 560.55,121.60 563.50,119.30 C566.45,117.00 569.35,114.72 572.30,112.40 C575.25,110.08 578.15,107.88 581.20,105.40 C584.25,102.92 587.27,100.27 590.60,97.50 C593.93,94.73 597.67,91.68 601.20,88.80 C604.73,85.92 608.25,83.07 611.80,80.20 C615.35,77.33 618.95,74.48 622.50,71.60 C626.05,68.72 629.57,65.77 633.10,62.90 C636.63,60.03 640.17,57.15 643.70,54.40 C647.23,51.65 650.77,49.00 654.30,46.40 C657.83,43.80 661.72,41.03 664.90,38.80 C668.08,36.57 671.67,34.20 673.40,33.00 C675.13,31.80 674.98,31.83 675.30,31.60" fill="none" stroke="#2a8a2a" stroke-width="2.5" stroke-linecap="round"/>
<path d="M479.80,170.40 C480.83,170.37 483.85,170.40 486.00,170.20 C488.15,170.00 490.87,169.60 492.70,169.20 C494.53,168.80 495.53,168.37 497.00,167.80 C498.47,167.23 500.00,166.53 501.50,165.80 C503.00,165.07 504.52,164.27 506.00,163.40 C507.48,162.53 508.90,161.63 510.40,160.60 C511.90,159.57 513.53,158.32 515.00,157.20 C516.47,156.08 517.32,155.40 519.20,153.90 C521.08,152.40 525.12,149.15 526.30,148.20" fill="none" stroke="#0c3c0c" stroke-width="1.5" stroke-linecap="round"/>
<g fill="#050a05"><circle cx="527.64" cy="147.16" r="1.1"/><circle cx="529.69" cy="145.57" r="1.1"/><circle cx="531.75" cy="143.98" r="1.1"/><circle cx="533.80" cy="142.38" r="1.1"/><circle cx="535.86" cy="140.79" r="1.1"/><circle cx="537.90" cy="139.18" r="1.1"/><circle cx="539.95" cy="137.58" r="1.1"/><circle cx="541.99" cy="135.97" r="1.1"/><circle cx="544.04" cy="134.37" r="1.1"/><circle cx="546.10" cy="132.78" r="1.1"/><circle cx="548.15" cy="131.19" r="1.1"/><circle cx="550.21" cy="129.60" r="1.1"/><circle cx="552.27" cy="128.01" r="1.1"/><circle cx="554.32" cy="126.41" r="1.1"/><circle cx="556.38" cy="124.82" r="1.1"/><circle cx="558.43" cy="123.23" r="1.1"/><circle cx="560.49" cy="121.64" r="1.1"/><circle cx="562.54" cy="120.04" r="1.1"/><circle cx="564.59" cy="118.44" r="1.1"/><circle cx="566.64" cy="116.84" r="1.1"/><circle cx="568.68" cy="115.24" r="1.1"/><circle cx="570.73" cy="113.63" r="1.1"/><circle cx="572.78" cy="112.03" r="1.1"/><circle cx="574.82" cy="110.42" r="1.1"/><circle cx="576.86" cy="108.81" r="1.1"/><circle cx="578.91" cy="107.20" r="1.1"/><circle cx="580.95" cy="105.60" r="1.1"/><circle cx="582.95" cy="103.93" r="1.1"/><circle cx="584.94" cy="102.26" r="1.1"/><circle cx="586.93" cy="100.59" r="1.1"/><circle cx="588.92" cy="98.91" r="1.1"/><circle cx="590.91" cy="97.24" r="1.1"/><circle cx="592.92" cy="95.59" r="1.1"/><circle cx="594.93" cy="93.95" r="1.1"/><circle cx="596.94" cy="92.30" r="1.1"/><circle cx="598.95" cy="90.65" r="1.1"/><circle cx="600.96" cy="89.00" r="1.1"/><circle cx="602.98" cy="87.36" r="1.1"/><circle cx="605.00" cy="85.72" r="1.1"/><circle cx="607.02" cy="84.08" r="1.1"/><circle cx="609.04" cy="82.44" r="1.1"/><circle cx="611.05" cy="80.80" r="1.1"/><circle cx="613.08" cy="79.17" r="1.1"/><circle cx="615.10" cy="77.54" r="1.1"/><circle cx="617.13" cy="75.92" r="1.1"/><circle cx="619.16" cy="74.29" r="1.1"/><circle cx="621.18" cy="72.66" r="1.1"/><circle cx="623.21" cy="71.02" r="1.1"/><circle cx="625.21" cy="69.37" r="1.1"/><circle cx="627.22" cy="67.72" r="1.1"/><circle cx="629.23" cy="66.07" r="1.1"/><circle cx="631.24" cy="64.42" r="1.1"/><circle cx="633.26" cy="62.78" r="1.1"/><circle cx="635.28" cy="61.15" r="1.1"/><circle cx="637.31" cy="59.52" r="1.1"/><circle cx="639.34" cy="57.90" r="1.1"/><circle cx="641.37" cy="56.27" r="1.1"/><circle cx="643.40" cy="54.64" r="1.1"/><circle cx="645.47" cy="53.07" r="1.1"/><circle cx="647.54" cy="51.50" r="1.1"/><circle cx="649.62" cy="49.94" r="1.1"/><circle cx="651.69" cy="48.37" r="1.1"/><circle cx="653.77" cy="46.80" r="1.1"/><circle cx="655.87" cy="45.27" r="1.1"/><circle cx="657.98" cy="43.76" r="1.1"/><circle cx="660.10" cy="42.24" r="1.1"/><circle cx="662.21" cy="40.73" r="1.1"/><circle cx="664.32" cy="39.21" r="1.1"/><circle cx="666.46" cy="37.74" r="1.1"/><circle cx="668.61" cy="36.27" r="1.1"/><circle cx="670.76" cy="34.80" r="1.1"/><circle cx="672.90" cy="33.34" r="1.1"/><circle cx="675.01" cy="31.81" r="1.1"/></g>
<rect x="511.2" y="41.0" width="56.3" height="50.6" fill="#fff" stroke="#555555" stroke-width="0.8"/>
<line x1="529.97" y1="91.60" x2="529.97" y2="89.40" stroke="#555555" stroke-width="0.8" />
<line x1="529.97" y1="41.00" x2="529.97" y2="43.20" stroke="#555555" stroke-width="0.8" />
<line x1="548.74" y1="91.60" x2="548.74" y2="89.40" stroke="#555555" stroke-width="0.8" />
<line x1="548.74" y1="41.00" x2="548.74" y2="43.20" stroke="#555555" stroke-width="0.8" />
<line x1="511.20" y1="78.95" x2="513.40" y2="78.95" stroke="#555555" stroke-width="0.8" />
<line x1="567.50" y1="78.95" x2="565.30" y2="78.95" stroke="#555555" stroke-width="0.8" />
<line x1="511.20" y1="66.30" x2="513.40" y2="66.30" stroke="#555555" stroke-width="0.8" />
<line x1="567.50" y1="66.30" x2="565.30" y2="66.30" stroke="#555555" stroke-width="0.8" />
<line x1="511.20" y1="53.65" x2="513.40" y2="53.65" stroke="#555555" stroke-width="0.8" />
<line x1="567.50" y1="53.65" x2="565.30" y2="53.65" stroke="#555555" stroke-width="0.8" />
<text x="508.60" y="93.90" style="font-family:'Liberation Serif',serif;font-size:7px" fill="#333" text-anchor="end" >0.0</text>
<text x="508.60" y="81.25" style="font-family:'Liberation Serif',serif;font-size:7px" fill="#333" text-anchor="end" >0.5</text>
<text x="508.60" y="68.60" style="font-family:'Liberation Serif',serif;font-size:7px" fill="#333" text-anchor="end" >1.0</text>
<text x="508.60" y="55.95" style="font-family:'Liberation Serif',serif;font-size:7px" fill="#333" text-anchor="end" >1.5</text>
<text x="508.60" y="43.30" style="font-family:'Liberation Serif',serif;font-size:7px" fill="#333" text-anchor="end" >2.0</text>
<text x="511.20" y="100.90" style="font-family:'Liberation Serif',serif;font-size:7px" fill="#333" text-anchor="middle" >0</text>
<text x="529.97" y="100.90" style="font-family:'Liberation Serif',serif;font-size:7px" fill="#333" text-anchor="middle" >10</text>
<text x="548.74" y="100.90" style="font-family:'Liberation Serif',serif;font-size:7px" fill="#333" text-anchor="middle" >20</text>
<text x="567.51" y="100.90" style="font-family:'Liberation Serif',serif;font-size:7px" fill="#333" text-anchor="middle" >30</text>
<text x="538.4" y="112.0" style="font-family:'Liberation Sans',sans-serif;font-size:8.6px" fill="#333" text-anchor="middle" textLength="15.5" lengthAdjust="spacingAndGlyphs"><tspan font-style="italic">T</tspan> (K)</text>
<text x="496.3" y="67.2" style="font-family:'Liberation Sans',sans-serif;font-size:7.4px" fill="#333" text-anchor="middle" textLength="33" lengthAdjust="spacingAndGlyphs" transform="rotate(-90 496.3 67.2)"><tspan font-style="italic">ρ</tspan> (μΩ cm)</text>
<path d="M515.10,77.20 C515.58,77.13 516.87,76.95 518.00,76.80 C519.13,76.65 520.57,76.50 521.90,76.30 C523.23,76.10 524.60,75.88 526.00,75.60 C527.40,75.32 528.88,75.00 530.30,74.60 C531.72,74.20 533.08,73.73 534.50,73.20 C535.92,72.67 537.55,72.00 538.80,71.40 C540.05,70.80 540.93,70.30 542.00,69.60 C543.07,68.90 544.12,68.02 545.20,67.20 C546.28,66.38 547.43,65.58 548.50,64.70 C549.57,63.82 550.38,63.08 551.60,61.90 C552.82,60.72 554.73,58.73 555.80,57.60 C556.87,56.47 557.28,55.98 558.00,55.10 C558.72,54.22 559.22,53.48 560.10,52.30 C560.98,51.12 562.48,49.22 563.30,48.00 C564.12,46.78 564.48,46.05 565.00,45.00 C565.52,43.95 566.17,42.25 566.40,41.70" fill="none" stroke="#3a8f3a" stroke-width="1.9" stroke-linecap="round"/>
<g fill="#0b2a0b"><circle cx="515.10" cy="77.20" r="0.95"/><circle cx="516.78" cy="76.97" r="0.95"/><circle cx="518.47" cy="76.74" r="0.95"/><circle cx="520.15" cy="76.52" r="0.95"/><circle cx="521.84" cy="76.31" r="0.95"/><circle cx="523.52" cy="76.02" r="0.95"/><circle cx="525.19" cy="75.74" r="0.95"/><circle cx="526.86" cy="75.40" r="0.95"/><circle cx="528.51" cy="75.02" r="0.95"/><circle cx="530.17" cy="74.63" r="0.95"/><circle cx="531.79" cy="74.10" r="0.95"/><circle cx="533.40" cy="73.57" r="0.95"/><circle cx="535.00" cy="72.99" r="0.95"/><circle cx="536.57" cy="72.34" r="0.95"/><circle cx="538.13" cy="71.68" r="0.95"/><circle cx="539.65" cy="70.92" r="0.95"/><circle cx="541.13" cy="70.09" r="0.95"/><circle cx="542.57" cy="69.18" r="0.95"/><circle cx="543.93" cy="68.16" r="0.95"/><circle cx="545.28" cy="67.14" r="0.75"/><circle cx="546.64" cy="66.11" r="0.75"/><circle cx="547.99" cy="65.08" r="0.75"/><circle cx="549.29" cy="63.99" r="0.75"/><circle cx="550.55" cy="62.85" r="0.75"/><circle cx="551.80" cy="61.69" r="0.75"/><circle cx="552.99" cy="60.48" r="0.75"/><circle cx="554.18" cy="59.26" r="0.75"/><circle cx="555.37" cy="58.04" r="0.75"/><circle cx="556.51" cy="56.79" r="0.75"/><circle cx="557.64" cy="55.51" r="0.75"/><circle cx="558.69" cy="54.18" r="0.75"/><circle cx="559.71" cy="52.82" r="0.75"/><circle cx="560.73" cy="51.46" r="0.75"/><circle cx="561.74" cy="50.10" r="0.75"/><circle cx="562.76" cy="48.73" r="0.75"/><circle cx="563.69" cy="47.31" r="0.75"/><circle cx="564.53" cy="45.84" r="0.75"/><circle cx="565.29" cy="44.32" r="0.75"/><circle cx="565.95" cy="42.75" r="0.75"/></g>
<path d="M514.5,77.2 L522,76.3" stroke="#000" stroke-width="3" stroke-linecap="round"/>
<text x="45.80" y="224.20" style="font-family:'Liberation Sans',sans-serif;font-size:12.4px" fill="#111" textLength="12.50" lengthAdjust="spacingAndGlyphs" >(d)</text>
<rect x="38.7" y="234.6" width="194.7" height="152.5" fill="none" stroke="#555555" stroke-width="1"/>
<line x1="71.15" y1="387.10" x2="71.15" y2="383.80" stroke="#555555" stroke-width="1" />
<line x1="71.15" y1="234.60" x2="71.15" y2="237.90" stroke="#555555" stroke-width="1" />
<line x1="103.60" y1="387.10" x2="103.60" y2="383.80" stroke="#555555" stroke-width="1" />
<line x1="103.60" y1="234.60" x2="103.60" y2="237.90" stroke="#555555" stroke-width="1" />
<line x1="136.05" y1="387.10" x2="136.05" y2="383.80" stroke="#555555" stroke-width="1" />
<line x1="136.05" y1="234.60" x2="136.05" y2="237.90" stroke="#555555" stroke-width="1" />
<line x1="168.50" y1="387.10" x2="168.50" y2="383.80" stroke="#555555" stroke-width="1" />
<line x1="168.50" y1="234.60" x2="168.50" y2="237.90" stroke="#555555" stroke-width="1" />
<line x1="200.95" y1="387.10" x2="200.95" y2="383.80" stroke="#555555" stroke-width="1" />
<line x1="200.95" y1="234.60" x2="200.95" y2="237.90" stroke="#555555" stroke-width="1" />
<line x1="38.70" y1="356.60" x2="42.00" y2="356.60" stroke="#555555" stroke-width="1" />
<line x1="233.40" y1="356.60" x2="230.10" y2="356.60" stroke="#555555" stroke-width="1" />
<line x1="38.70" y1="326.10" x2="42.00" y2="326.10" stroke="#555555" stroke-width="1" />
<line x1="233.40" y1="326.10" x2="230.10" y2="326.10" stroke="#555555" stroke-width="1" />
<line x1="38.70" y1="295.60" x2="42.00" y2="295.60" stroke="#555555" stroke-width="1" />
<line x1="233.40" y1="295.60" x2="230.10" y2="295.60" stroke="#555555" stroke-width="1" />
<line x1="38.70" y1="265.10" x2="42.00" y2="265.10" stroke="#555555" stroke-width="1" />
<line x1="233.40" y1="265.10" x2="230.10" y2="265.10" stroke="#555555" stroke-width="1" />
<text x="34.60" y="390.40" style="font-family:'Liberation Serif',serif;font-size:9.5px" fill="#222" text-anchor="end" >0</text>
<text x="34.60" y="359.90" style="font-family:'Liberation Serif',serif;font-size:9.5px" fill="#222" text-anchor="end" >10</text>
<text x="34.60" y="329.40" style="font-family:'Liberation Serif',serif;font-size:9.5px" fill="#222" text-anchor="end" >20</text>
<text x="34.60" y="298.90" style="font-family:'Liberation Serif',serif;font-size:9.5px" fill="#222" text-anchor="end" >30</text>
<text x="34.60" y="268.40" style="font-family:'Liberation Serif',serif;font-size:9.5px" fill="#222" text-anchor="end" >40</text>
<text x="34.60" y="237.90" style="font-family:'Liberation Serif',serif;font-size:9.5px" fill="#222" text-anchor="end" >50</text>
<text x="38.70" y="400.70" style="font-family:'Liberation Serif',serif;font-size:9.5px" fill="#222" text-anchor="middle" >0</text>
<text x="71.15" y="400.70" style="font-family:'Liberation Serif',serif;font-size:9.5px" fill="#222" text-anchor="middle" >50</text>
<text x="103.60" y="400.70" style="font-family:'Liberation Serif',serif;font-size:9.5px" fill="#222" text-anchor="middle" >100</text>
<text x="136.05" y="400.70" style="font-family:'Liberation Serif',serif;font-size:9.5px" fill="#222" text-anchor="middle" >150</text>
<text x="168.50" y="400.70" style="font-family:'Liberation Serif',serif;font-size:9.5px" fill="#222" text-anchor="middle" >200</text>
<text x="200.95" y="400.70" style="font-family:'Liberation Serif',serif;font-size:9.5px" fill="#222" text-anchor="middle" >250</text>
<text x="233.40" y="400.70" style="font-family:'Liberation Serif',serif;font-size:9.5px" fill="#222" text-anchor="middle" >300</text>
<text x="129.05" y="417.4" style="font-family:'Liberation Sans',sans-serif;font-size:11.5px" fill="#222" text-anchor="middle" textLength="21.7" lengthAdjust="spacingAndGlyphs"><tspan font-style="italic">T</tspan> (K)</text>
<text x="16.4" y="350.3" style="font-family:'Liberation Serif',serif;font-size:13px;font-style:italic" fill="#222" textLength="6.8" lengthAdjust="spacingAndGlyphs" transform="rotate(-90 16.4 350.3)">χ</text>
<text x="7.9" y="342.8" style="font-family:'Liberation Sans',sans-serif;font-size:8.4px" fill="#222" textLength="6.1" lengthAdjust="spacingAndGlyphs" transform="rotate(-90 7.9 342.8)">-1</text>
<text x="16.4" y="333.6" style="font-family:'Liberation Sans',sans-serif;font-size:12.5px" fill="#222" textLength="51.9" lengthAdjust="spacingAndGlyphs" transform="rotate(-90 16.4 333.6)">(mol/emu)</text>
<text x="151.80" y="258.40" style="font-family:'Liberation Serif',serif;font-size:14px" fill="#111" textLength="32.10" lengthAdjust="spacingAndGlyphs" >GdTe</text>
<text x="183.90" y="263.10" style="font-family:'Liberation Serif',serif;font-size:9px" fill="#111" >3</text>
<text x="150.6" y="273.8" style="font-family:'Liberation Mono',monospace;font-size:8.6px;font-style:italic" fill="#333">H</text>
<path d="M160.3,268.6 V273.3 M157.4,273.3 H163.2" stroke="#333" stroke-width="0.9" fill="none"/>
<text x="164.6" y="273.8" style="font-family:'Liberation Mono',monospace;font-size:8.6px" fill="#333" textLength="27.8" lengthAdjust="spacingAndGlyphs">b-axis</text>
<line x1="38.70" y1="381.90" x2="233.40" y2="256.60" stroke="#e8403a" stroke-width="1.1" />
<g fill="#08082e"><circle cx="39.87" cy="361.90" r="2.0"/><circle cx="40.10" cy="362.35" r="2.0"/><circle cx="40.32" cy="362.76" r="2.0"/><circle cx="40.55" cy="363.17" r="2.0"/><circle cx="40.78" cy="363.57" r="2.0"/><circle cx="41.00" cy="363.96" r="2.0"/><circle cx="41.23" cy="364.35" r="2.0"/><circle cx="41.46" cy="364.74" r="2.0"/><circle cx="41.69" cy="365.12" r="2.0"/><circle cx="41.91" cy="365.50" r="2.0"/><circle cx="42.14" cy="365.88" r="2.0"/><circle cx="42.37" cy="366.26" r="2.0"/><circle cx="42.59" cy="366.63" r="2.0"/><circle cx="42.82" cy="367.01" r="2.0"/><circle cx="43.05" cy="367.38" r="2.0"/><circle cx="43.28" cy="367.75" r="2.0"/><circle cx="43.50" cy="368.12" r="2.0"/><circle cx="43.73" cy="368.49" r="2.0"/><circle cx="43.96" cy="368.86" r="2.0"/><circle cx="44.18" cy="369.22" r="2.0"/><circle cx="44.41" cy="369.59" r="2.0"/><circle cx="44.64" cy="369.95" r="2.0"/><circle cx="44.87" cy="370.32" r="2.0"/><circle cx="45.09" cy="370.68" r="2.0"/><circle cx="45.32" cy="371.04" r="2.0"/><circle cx="45.55" cy="371.40" r="2.0"/><circle cx="45.77" cy="371.76" r="2.0"/><circle cx="46.00" cy="372.12" r="2.0"/><circle cx="46.23" cy="372.48" r="2.0"/><circle cx="46.46" cy="372.84" r="2.0"/><circle cx="46.68" cy="373.20" r="2.0"/><circle cx="46.68" cy="373.20" r="2.0"/><circle cx="47.59" cy="372.92" r="2.0"/><circle cx="48.50" cy="372.65" r="2.0"/><circle cx="49.41" cy="372.34" r="2.0"/><circle cx="50.32" cy="372.01" r="2.0"/><circle cx="51.23" cy="371.66" r="2.0"/><circle cx="52.13" cy="371.28" r="2.0"/><circle cx="53.04" cy="370.88" r="2.0"/><circle cx="53.95" cy="370.47" r="2.0"/><circle cx="54.86" cy="370.04" r="2.0"/><circle cx="55.77" cy="369.59" r="2.0"/><circle cx="56.68" cy="369.13" r="2.0"/><circle cx="57.59" cy="368.66" r="2.0"/><circle cx="58.49" cy="368.18" r="2.0"/><circle cx="59.40" cy="367.69" r="2.0"/><circle cx="60.31" cy="367.19" r="2.0"/><circle cx="61.22" cy="366.68" r="2.0"/><circle cx="62.13" cy="366.16" r="2.0"/><circle cx="63.04" cy="365.64" r="2.0"/><circle cx="63.95" cy="365.11" r="2.0"/><circle cx="64.85" cy="364.58" r="2.0"/><circle cx="65.76" cy="364.04" r="2.0"/><circle cx="66.67" cy="363.50" r="2.0"/><circle cx="67.58" cy="362.95" r="2.0"/><circle cx="68.49" cy="362.40" r="2.0"/><circle cx="69.40" cy="361.85" r="2.0"/><circle cx="70.31" cy="361.29" r="2.0"/><circle cx="71.21" cy="360.73" r="2.0"/><circle cx="72.12" cy="360.17" r="2.0"/><circle cx="73.03" cy="359.61" r="2.0"/><circle cx="73.94" cy="359.04" r="2.0"/><circle cx="74.85" cy="358.47" r="2.0"/><circle cx="75.76" cy="357.90" r="2.0"/><circle cx="76.67" cy="357.33" r="2.0"/><circle cx="77.58" cy="356.76" r="2.0"/><circle cx="78.48" cy="356.19" r="2.0"/><circle cx="79.39" cy="355.61" r="2.0"/><circle cx="80.30" cy="355.04" r="2.0"/><circle cx="81.21" cy="354.46" r="2.0"/><circle cx="82.12" cy="353.89" r="2.0"/><circle cx="83.03" cy="353.31" r="2.0"/><circle cx="83.94" cy="352.73" r="2.0"/><circle cx="84.84" cy="352.15" r="2.0"/><circle cx="85.75" cy="351.57" r="2.0"/><circle cx="86.66" cy="350.99" r="2.0"/><circle cx="87.38" cy="350.53" r="2.0"/><circle cx="90.62" cy="348.46" r="2.0"/><circle cx="93.87" cy="346.38" r="2.0"/><circle cx="97.11" cy="344.30" r="2.0"/><circle cx="100.36" cy="342.21" r="2.0"/><circle cx="103.60" cy="340.13" r="2.0"/><circle cx="110.09" cy="335.95" r="2.0"/><circle cx="116.58" cy="331.78" r="2.0"/><circle cx="123.07" cy="327.60" r="2.0"/><circle cx="129.56" cy="323.43" r="2.0"/><circle cx="136.05" cy="319.25" r="2.0"/><circle cx="142.54" cy="315.07" r="2.0"/><circle cx="149.03" cy="310.90" r="2.0"/><circle cx="155.52" cy="306.72" r="2.0"/><circle cx="162.01" cy="302.54" r="2.0"/><circle cx="168.50" cy="298.37" r="2.0"/><circle cx="174.99" cy="294.19" r="2.0"/><circle cx="181.48" cy="290.01" r="2.0"/><circle cx="187.97" cy="285.84" r="2.0"/><circle cx="194.46" cy="281.66" r="2.0"/><circle cx="200.95" cy="277.48" r="2.0"/><circle cx="207.44" cy="273.31" r="2.0"/><circle cx="213.93" cy="269.13" r="2.0"/><circle cx="220.42" cy="264.95" r="2.0"/><circle cx="226.91" cy="260.78" r="2.0"/><circle cx="233.40" cy="256.60" r="2.0"/></g>
<g fill="#14146a"><circle cx="39.87" cy="361.90" r="0.8"/><circle cx="40.10" cy="362.35" r="0.8"/><circle cx="40.32" cy="362.76" r="0.8"/><circle cx="40.55" cy="363.17" r="0.8"/><circle cx="40.78" cy="363.57" r="0.8"/><circle cx="41.00" cy="363.96" r="0.8"/><circle cx="41.23" cy="364.35" r="0.8"/><circle cx="41.46" cy="364.74" r="0.8"/><circle cx="41.69" cy="365.12" r="0.8"/><circle cx="41.91" cy="365.50" r="0.8"/><circle cx="42.14" cy="365.88" r="0.8"/><circle cx="42.37" cy="366.26" r="0.8"/><circle cx="42.59" cy="366.63" r="0.8"/><circle cx="42.82" cy="367.01" r="0.8"/><circle cx="43.05" cy="367.38" r="0.8"/><circle cx="43.28" cy="367.75" r="0.8"/><circle cx="43.50" cy="368.12" r="0.8"/><circle cx="43.73" cy="368.49" r="0.8"/><circle cx="43.96" cy="368.86" r="0.8"/><circle cx="44.18" cy="369.22" r="0.8"/><circle cx="44.41" cy="369.59" r="0.8"/><circle cx="44.64" cy="369.95" r="0.8"/><circle cx="44.87" cy="370.32" r="0.8"/><circle cx="45.09" cy="370.68" r="0.8"/><circle cx="45.32" cy="371.04" r="0.8"/><circle cx="45.55" cy="371.40" r="0.8"/><circle cx="45.77" cy="371.76" r="0.8"/><circle cx="46.00" cy="372.12" r="0.8"/><circle cx="46.23" cy="372.48" r="0.8"/><circle cx="46.46" cy="372.84" r="0.8"/><circle cx="46.68" cy="373.20" r="0.8"/><circle cx="46.68" cy="373.20" r="0.8"/></g>
<g fill="#2626d8"><circle cx="47.59" cy="372.92" r="1.35"/><circle cx="48.50" cy="372.65" r="1.35"/><circle cx="49.41" cy="372.34" r="1.35"/><circle cx="50.32" cy="372.01" r="1.35"/><circle cx="51.23" cy="371.66" r="1.35"/><circle cx="52.13" cy="371.28" r="1.35"/><circle cx="53.04" cy="370.88" r="1.35"/><circle cx="53.95" cy="370.47" r="1.35"/><circle cx="54.86" cy="370.04" r="1.35"/><circle cx="55.77" cy="369.59" r="1.35"/><circle cx="56.68" cy="369.13" r="1.35"/><circle cx="57.59" cy="368.66" r="1.35"/><circle cx="58.49" cy="368.18" r="1.35"/><circle cx="59.40" cy="367.69" r="1.35"/><circle cx="60.31" cy="367.19" r="1.35"/><circle cx="61.22" cy="366.68" r="1.35"/><circle cx="62.13" cy="366.16" r="1.35"/><circle cx="63.04" cy="365.64" r="1.35"/><circle cx="63.95" cy="365.11" r="1.35"/><circle cx="64.85" cy="364.58" r="1.35"/><circle cx="65.76" cy="364.04" r="1.35"/><circle cx="66.67" cy="363.50" r="1.35"/><circle cx="67.58" cy="362.95" r="1.35"/><circle cx="68.49" cy="362.40" r="1.35"/><circle cx="69.40" cy="361.85" r="1.35"/><circle cx="70.31" cy="361.29" r="1.35"/><circle cx="71.21" cy="360.73" r="1.35"/><circle cx="72.12" cy="360.17" r="1.35"/><circle cx="73.03" cy="359.61" r="1.35"/><circle cx="73.94" cy="359.04" r="1.35"/><circle cx="74.85" cy="358.47" r="1.35"/><circle cx="75.76" cy="357.90" r="1.35"/><circle cx="76.67" cy="357.33" r="1.35"/><circle cx="77.58" cy="356.76" r="1.35"/><circle cx="78.48" cy="356.19" r="1.35"/><circle cx="79.39" cy="355.61" r="1.35"/><circle cx="80.30" cy="355.04" r="1.35"/><circle cx="81.21" cy="354.46" r="1.35"/><circle cx="82.12" cy="353.89" r="1.35"/><circle cx="83.03" cy="353.31" r="1.35"/><circle cx="83.94" cy="352.73" r="1.35"/><circle cx="84.84" cy="352.15" r="1.35"/><circle cx="85.75" cy="351.57" r="1.35"/><circle cx="86.66" cy="350.99" r="1.35"/><circle cx="87.38" cy="350.53" r="1.35"/><circle cx="90.62" cy="348.46" r="1.35"/><circle cx="93.87" cy="346.38" r="1.35"/><circle cx="97.11" cy="344.30" r="1.35"/><circle cx="100.36" cy="342.21" r="1.35"/><circle cx="103.60" cy="340.13" r="1.35"/><circle cx="110.09" cy="335.95" r="1.35"/><circle cx="116.58" cy="331.78" r="1.35"/><circle cx="123.07" cy="327.60" r="1.35"/><circle cx="129.56" cy="323.43" r="1.35"/><circle cx="136.05" cy="319.25" r="1.35"/><circle cx="142.54" cy="315.07" r="1.35"/><circle cx="149.03" cy="310.90" r="1.35"/><circle cx="155.52" cy="306.72" r="1.35"/><circle cx="162.01" cy="302.54" r="1.35"/><circle cx="168.50" cy="298.37" r="1.35"/><circle cx="174.99" cy="294.19" r="1.35"/><circle cx="181.48" cy="290.01" r="1.35"/><circle cx="187.97" cy="285.84" r="1.35"/><circle cx="194.46" cy="281.66" r="1.35"/><circle cx="200.95" cy="277.48" r="1.35"/><circle cx="207.44" cy="273.31" r="1.35"/><circle cx="213.93" cy="269.13" r="1.35"/><circle cx="220.42" cy="264.95" r="1.35"/><circle cx="226.91" cy="260.78" r="1.35"/><circle cx="233.40" cy="256.60" r="1.35"/></g>
<line x1="48.00" y1="375.71" x2="233.40" y2="256.40" stroke="#e8403a" stroke-width="0.8" opacity="0.85"/>
<rect x="71.2" y="243.2" width="56.4" height="50.3" fill="#fff" stroke="#555555" stroke-width="0.8"/>
<line x1="82.38" y1="293.50" x2="82.38" y2="291.60" stroke="#555555" stroke-width="0.7" />
<line x1="82.38" y1="243.20" x2="82.38" y2="245.10" stroke="#555555" stroke-width="0.7" />
<line x1="93.46" y1="293.50" x2="93.46" y2="291.60" stroke="#555555" stroke-width="0.7" />
<line x1="93.46" y1="243.20" x2="93.46" y2="245.10" stroke="#555555" stroke-width="0.7" />
<line x1="104.54" y1="293.50" x2="104.54" y2="291.60" stroke="#555555" stroke-width="0.7" />
<line x1="104.54" y1="243.20" x2="104.54" y2="245.10" stroke="#555555" stroke-width="0.7" />
<line x1="115.62" y1="293.50" x2="115.62" y2="291.60" stroke="#555555" stroke-width="0.7" />
<line x1="115.62" y1="243.20" x2="115.62" y2="245.10" stroke="#555555" stroke-width="0.7" />
<line x1="126.70" y1="293.50" x2="126.70" y2="291.60" stroke="#555555" stroke-width="0.7" />
<line x1="126.70" y1="243.20" x2="126.70" y2="245.10" stroke="#555555" stroke-width="0.7" />
<line x1="71.20" y1="276.74" x2="73.10" y2="276.74" stroke="#555555" stroke-width="0.7" />
<line x1="127.60" y1="276.74" x2="125.70" y2="276.74" stroke="#555555" stroke-width="0.7" />
<line x1="71.20" y1="259.97" x2="73.10" y2="259.97" stroke="#555555" stroke-width="0.7" />
<line x1="127.60" y1="259.97" x2="125.70" y2="259.97" stroke="#555555" stroke-width="0.7" />
<text x="68.50" y="295.70" style="font-family:'Liberation Serif',serif;font-size:6.6px" fill="#333" text-anchor="end" >0.10</text>
<text x="68.50" y="278.94" style="font-family:'Liberation Serif',serif;font-size:6.6px" fill="#333" text-anchor="end" >0.15</text>
<text x="68.50" y="262.17" style="font-family:'Liberation Serif',serif;font-size:6.6px" fill="#333" text-anchor="end" >0.20</text>
<text x="68.50" y="245.40" style="font-family:'Liberation Serif',serif;font-size:6.6px" fill="#333" text-anchor="end" >0.25</text>
<text x="71.30" y="303.30" style="font-family:'Liberation Serif',serif;font-size:6.6px" fill="#333" text-anchor="middle" >0</text>
<text x="82.38" y="303.30" style="font-family:'Liberation Serif',serif;font-size:6.6px" fill="#333" text-anchor="middle" >5</text>
<text x="93.46" y="303.30" style="font-family:'Liberation Serif',serif;font-size:6.6px" fill="#333" text-anchor="middle" >10</text>
<text x="104.54" y="303.30" style="font-family:'Liberation Serif',serif;font-size:6.6px" fill="#333" text-anchor="middle" >15</text>
<text x="115.62" y="303.30" style="font-family:'Liberation Serif',serif;font-size:6.6px" fill="#333" text-anchor="middle" >20</text>
<text x="126.70" y="303.30" style="font-family:'Liberation Serif',serif;font-size:6.6px" fill="#333" text-anchor="middle" >25</text>
<text x="103.8" y="316.6" style="font-family:'Liberation Sans',sans-serif;font-size:8.6px" fill="#333" text-anchor="middle" textLength="13.9" lengthAdjust="spacingAndGlyphs"><tspan font-style="italic">T</tspan> (K)</text>
<text x="51.6" y="271.7" style="font-family:'Liberation Sans',sans-serif;font-size:8px" fill="#333" text-anchor="middle" textLength="43.6" lengthAdjust="spacingAndGlyphs" transform="rotate(-90 51.6 271.7)"><tspan font-style="italic">χ</tspan> (emu/mol)</text>
<text x="89" y="289.3" style="font-family:'Liberation Sans',sans-serif;font-size:7.2px" fill="#333" textLength="32.3" lengthAdjust="spacingAndGlyphs"><tspan font-style="italic">μ</tspan><tspan font-size="5" dy="1.5">0</tspan><tspan font-style="italic" dy="-1.5">H</tspan> = 0.1 T</text>
<polyline points="93.80,263.40 96.00,258.40 98.10,253.50 100.20,252.20 102.30,251.90 104.80,252.40 107.10,253.40 111.80,255.60 116.10,258.30 122.90,262.30 127.50,265.50" fill="none" stroke="#9a9a9a" stroke-width="0.5" stroke-linejoin="round" stroke-linecap="round" />
<g fill="#1d2f30"><circle cx="74.80" cy="286.40" r="1.55"/><circle cx="75.58" cy="285.78" r="1.55"/><circle cx="76.36" cy="285.15" r="1.55"/><circle cx="77.14" cy="284.53" r="1.55"/><circle cx="77.95" cy="283.93" r="1.55"/><circle cx="78.75" cy="283.34" r="1.55"/><circle cx="79.56" cy="282.75" r="1.55"/><circle cx="80.37" cy="282.17" r="1.55"/><circle cx="81.10" cy="281.49" r="1.55"/><circle cx="81.80" cy="280.77" r="1.55"/><circle cx="82.50" cy="280.06" r="1.55"/><circle cx="83.20" cy="279.34" r="1.55"/><circle cx="83.90" cy="278.62" r="1.55"/><circle cx="84.59" cy="277.91" r="1.55"/><circle cx="85.24" cy="277.14" r="1.55"/><circle cx="85.87" cy="276.37" r="1.55"/><circle cx="86.50" cy="275.59" r="1.55"/><circle cx="87.13" cy="274.82" r="1.55"/><circle cx="87.76" cy="274.04" r="1.55"/><circle cx="88.31" cy="273.20" r="1.55"/><circle cx="88.85" cy="272.36" r="1.55"/><circle cx="89.39" cy="271.52" r="1.55"/><circle cx="89.93" cy="270.68" r="1.55"/><circle cx="90.44" cy="269.82" r="1.55"/><circle cx="90.89" cy="268.93" r="1.55"/><circle cx="91.33" cy="268.03" r="1.55"/><circle cx="91.78" cy="267.14" r="1.55"/><circle cx="92.23" cy="266.24" r="1.55"/><circle cx="92.70" cy="265.36" r="1.55"/><circle cx="93.19" cy="264.49" r="1.55"/><circle cx="93.68" cy="263.62" r="1.55"/><circle cx="96.00" cy="258.40" r="1.55"/><circle cx="98.10" cy="253.50" r="1.55"/><circle cx="100.20" cy="252.20" r="1.55"/><circle cx="102.30" cy="251.90" r="1.55"/><circle cx="104.80" cy="252.40" r="1.55"/><circle cx="107.10" cy="253.40" r="1.55"/><circle cx="111.80" cy="255.60" r="1.55"/><circle cx="116.10" cy="258.30" r="1.55"/><circle cx="122.90" cy="262.30" r="1.55"/></g>
<g fill="#2edcde"><circle cx="79.56" cy="282.75" r="1.05"/><circle cx="80.37" cy="282.17" r="1.05"/><circle cx="81.10" cy="281.49" r="1.05"/><circle cx="81.80" cy="280.77" r="1.05"/><circle cx="82.50" cy="280.06" r="1.05"/><circle cx="83.20" cy="279.34" r="1.05"/><circle cx="83.90" cy="278.62" r="1.05"/><circle cx="84.59" cy="277.91" r="1.05"/><circle cx="85.24" cy="277.14" r="1.05"/><circle cx="85.87" cy="276.37" r="1.05"/><circle cx="86.50" cy="275.59" r="1.05"/><circle cx="87.13" cy="274.82" r="1.05"/><circle cx="87.76" cy="274.04" r="1.05"/><circle cx="88.31" cy="273.20" r="1.05"/><circle cx="88.85" cy="272.36" r="1.05"/><circle cx="89.39" cy="271.52" r="1.05"/><circle cx="89.93" cy="270.68" r="1.05"/><circle cx="90.44" cy="269.82" r="1.05"/><circle cx="90.89" cy="268.93" r="1.05"/><circle cx="91.33" cy="268.03" r="1.05"/><circle cx="91.78" cy="267.14" r="1.05"/><circle cx="92.23" cy="266.24" r="1.05"/><circle cx="92.70" cy="265.36" r="1.05"/><circle cx="93.19" cy="264.49" r="1.05"/><circle cx="93.68" cy="263.62" r="1.05"/><circle cx="96.00" cy="258.40" r="1.05"/><circle cx="98.10" cy="253.50" r="1.05"/><circle cx="100.20" cy="252.20" r="1.05"/><circle cx="102.30" cy="251.90" r="1.05"/><circle cx="104.80" cy="252.40" r="1.05"/><circle cx="107.10" cy="253.40" r="1.05"/><circle cx="111.80" cy="255.60" r="1.05"/><circle cx="116.10" cy="258.30" r="1.05"/><circle cx="122.90" cy="262.30" r="1.05"/></g>
<rect x="172.1" y="312.0" width="56.3" height="50.2" fill="#fff" stroke="#555555" stroke-width="0.8"/>
<line x1="186.36" y1="362.20" x2="186.36" y2="360.30" stroke="#555555" stroke-width="0.7" />
<line x1="186.36" y1="312.00" x2="186.36" y2="313.90" stroke="#555555" stroke-width="0.7" />
<line x1="200.42" y1="362.20" x2="200.42" y2="360.30" stroke="#555555" stroke-width="0.7" />
<line x1="200.42" y1="312.00" x2="200.42" y2="313.90" stroke="#555555" stroke-width="0.7" />
<line x1="214.48" y1="362.20" x2="214.48" y2="360.30" stroke="#555555" stroke-width="0.7" />
<line x1="214.48" y1="312.00" x2="214.48" y2="313.90" stroke="#555555" stroke-width="0.7" />
<line x1="172.10" y1="349.65" x2="174.00" y2="349.65" stroke="#555555" stroke-width="0.7" />
<line x1="228.40" y1="349.65" x2="226.50" y2="349.65" stroke="#555555" stroke-width="0.7" />
<line x1="172.10" y1="337.10" x2="174.00" y2="337.10" stroke="#555555" stroke-width="0.7" />
<line x1="228.40" y1="337.10" x2="226.50" y2="337.10" stroke="#555555" stroke-width="0.7" />
<line x1="172.10" y1="324.55" x2="174.00" y2="324.55" stroke="#555555" stroke-width="0.7" />
<line x1="228.40" y1="324.55" x2="226.50" y2="324.55" stroke="#555555" stroke-width="0.7" />
<text x="169.90" y="364.40" style="font-family:'Liberation Serif',serif;font-size:6.6px" fill="#333" text-anchor="end" >0</text>
<text x="169.90" y="351.85" style="font-family:'Liberation Serif',serif;font-size:6.6px" fill="#333" text-anchor="end" >10</text>
<text x="169.90" y="339.30" style="font-family:'Liberation Serif',serif;font-size:6.6px" fill="#333" text-anchor="end" >20</text>
<text x="169.90" y="326.75" style="font-family:'Liberation Serif',serif;font-size:6.6px" fill="#333" text-anchor="end" >30</text>
<text x="169.90" y="314.20" style="font-family:'Liberation Serif',serif;font-size:6.6px" fill="#333" text-anchor="end" >40</text>
<text x="172.30" y="371.60" style="font-family:'Liberation Serif',serif;font-size:6.6px" fill="#333" text-anchor="middle" >0</text>
<text x="228.54" y="371.60" style="font-family:'Liberation Serif',serif;font-size:6.6px" fill="#333" text-anchor="middle" >8</text>
<text x="205.1" y="379.8" style="font-family:'Liberation Sans',sans-serif;font-size:8.6px" fill="#333" text-anchor="middle" textLength="24" lengthAdjust="spacingAndGlyphs"><tspan font-style="italic">μ</tspan><tspan font-size="6" dy="1.8">0</tspan><tspan font-style="italic" dy="-1.8">H</tspan> (T)</text>
<text x="175.5" y="324.1" style="font-family:'Liberation Sans',sans-serif;font-size:7px" fill="#333" textLength="26.5" lengthAdjust="spacingAndGlyphs"><tspan font-style="italic">T</tspan> = 1.72 K</text>
<circle cx="206.8" cy="323.6" r="0.4" fill="#999"/>
<text x="159.2" y="341.9" style="font-family:'Liberation Sans',sans-serif;font-size:8px" fill="#333" text-anchor="middle" textLength="32" lengthAdjust="spacingAndGlyphs" transform="rotate(-90 159.2 341.9)"><tspan font-style="italic">M</tspan> (emu/g)</text>
<line x1="172.70" y1="362.40" x2="209.50" y2="346.60" stroke="#e04040" stroke-width="0.9" stroke-dasharray="2.5,1.6"/>
<circle cx="172.7" cy="362.6" r="1.35" fill="#fff" stroke="#2a8a2a" stroke-width="0.9"/>
<circle cx="174.6" cy="361.7" r="1.35" fill="#fff" stroke="#2a8a2a" stroke-width="0.9"/>
<circle cx="177.4" cy="360.7" r="1.35" fill="#fff" stroke="#2a8a2a" stroke-width="0.9"/>
<circle cx="180.2" cy="359.8" r="1.35" fill="#fff" stroke="#2a8a2a" stroke-width="0.9"/>
<circle cx="183.1" cy="358.3" r="1.35" fill="#fff" stroke="#2a8a2a" stroke-width="0.9"/>
<circle cx="186.5" cy="355.1" r="1.35" fill="#2a8a2a" stroke="#2a8a2a" stroke-width="0.9"/>
<circle cx="189.7" cy="350.3" r="1.35" fill="#fff" stroke="#2a8a2a" stroke-width="0.9"/>
<circle cx="193.8" cy="346.9" r="1.35" fill="#fff" stroke="#2a8a2a" stroke-width="0.9"/>
<circle cx="197.2" cy="344.7" r="1.35" fill="#fff" stroke="#2a8a2a" stroke-width="0.9"/>
<circle cx="199.5" cy="341.8" r="1.35" fill="#fff" stroke="#2a8a2a" stroke-width="0.9"/>
<circle cx="203.8" cy="338.1" r="1.35" fill="#fff" stroke="#2a8a2a" stroke-width="0.9"/>
<circle cx="207.6" cy="335.2" r="1.35" fill="#fff" stroke="#2a8a2a" stroke-width="0.9"/>
<circle cx="210.1" cy="333" r="1.35" fill="#2a8a2a" stroke="#2a8a2a" stroke-width="0.9"/>
<circle cx="212" cy="331.4" r="1.35" fill="#fff" stroke="#2a8a2a" stroke-width="0.9"/>
<circle cx="214.8" cy="329" r="1.35" fill="#2a8a2a" stroke="#2a8a2a" stroke-width="0.9"/>
<circle cx="218" cy="325.2" r="1.35" fill="#fff" stroke="#2a8a2a" stroke-width="0.9"/>
<circle cx="219.9" cy="323.9" r="1.35" fill="#fff" stroke="#2a8a2a" stroke-width="0.9"/>
<circle cx="221.4" cy="322.6" r="1.35" fill="#2a8a2a" stroke="#2a8a2a" stroke-width="0.9"/>
<text x="288.00" y="224.20" style="font-family:'Liberation Sans',sans-serif;font-size:12.4px" fill="#111" textLength="13.00" lengthAdjust="spacingAndGlyphs" >(e)</text>
<rect x="275.6" y="233.3" width="198.9" height="155.0" fill="none" stroke="#555555" stroke-width="1"/>
<line x1="315.38" y1="388.30" x2="315.38" y2="385.00" stroke="#555555" stroke-width="1" />
<line x1="315.38" y1="233.30" x2="315.38" y2="236.60" stroke="#555555" stroke-width="1" />
<line x1="355.16" y1="388.30" x2="355.16" y2="385.00" stroke="#555555" stroke-width="1" />
<line x1="355.16" y1="233.30" x2="355.16" y2="236.60" stroke="#555555" stroke-width="1" />
<line x1="394.94" y1="388.30" x2="394.94" y2="385.00" stroke="#555555" stroke-width="1" />
<line x1="394.94" y1="233.30" x2="394.94" y2="236.60" stroke="#555555" stroke-width="1" />
<line x1="434.72" y1="388.30" x2="434.72" y2="385.00" stroke="#555555" stroke-width="1" />
<line x1="434.72" y1="233.30" x2="434.72" y2="236.60" stroke="#555555" stroke-width="1" />
<line x1="275.60" y1="366.16" x2="278.90" y2="366.16" stroke="#555555" stroke-width="1" />
<line x1="474.50" y1="366.16" x2="471.20" y2="366.16" stroke="#555555" stroke-width="1" />
<line x1="275.60" y1="344.02" x2="278.90" y2="344.02" stroke="#555555" stroke-width="1" />
<line x1="474.50" y1="344.02" x2="471.20" y2="344.02" stroke="#555555" stroke-width="1" />
<line x1="275.60" y1="321.88" x2="278.90" y2="321.88" stroke="#555555" stroke-width="1" />
<line x1="474.50" y1="321.88" x2="471.20" y2="321.88" stroke="#555555" stroke-width="1" />
<line x1="275.60" y1="299.74" x2="278.90" y2="299.74" stroke="#555555" stroke-width="1" />
<line x1="474.50" y1="299.74" x2="471.20" y2="299.74" stroke="#555555" stroke-width="1" />
<line x1="275.60" y1="277.60" x2="278.90" y2="277.60" stroke="#555555" stroke-width="1" />
<line x1="474.50" y1="277.60" x2="471.20" y2="277.60" stroke="#555555" stroke-width="1" />
<line x1="275.60" y1="255.46" x2="278.90" y2="255.46" stroke="#555555" stroke-width="1" />
<line x1="474.50" y1="255.46" x2="471.20" y2="255.46" stroke="#555555" stroke-width="1" />
<text x="271.20" y="391.60" style="font-family:'Liberation Serif',serif;font-size:9.5px" fill="#222" text-anchor="end" >0</text>
<text x="271.20" y="369.46" style="font-family:'Liberation Serif',serif;font-size:9.5px" fill="#222" text-anchor="end" >3</text>
<text x="271.20" y="347.32" style="font-family:'Liberation Serif',serif;font-size:9.5px" fill="#222" text-anchor="end" >6</text>
<text x="271.20" y="325.18" style="font-family:'Liberation Serif',serif;font-size:9.5px" fill="#222" text-anchor="end" >9</text>
<text x="271.20" y="303.04" style="font-family:'Liberation Serif',serif;font-size:9.5px" fill="#222" text-anchor="end" >12</text>
<text x="271.20" y="280.90" style="font-family:'Liberation Serif',serif;font-size:9.5px" fill="#222" text-anchor="end" >15</text>
<text x="271.20" y="258.76" style="font-family:'Liberation Serif',serif;font-size:9.5px" fill="#222" text-anchor="end" >18</text>
<text x="271.20" y="236.62" style="font-family:'Liberation Serif',serif;font-size:9.5px" fill="#222" text-anchor="end" >21</text>
<text x="275.60" y="402.70" style="font-family:'Liberation Serif',serif;font-size:9.5px" fill="#222" text-anchor="middle" >0</text>
<text x="315.38" y="402.70" style="font-family:'Liberation Serif',serif;font-size:9.5px" fill="#222" text-anchor="middle" >3</text>
<text x="355.16" y="402.70" style="font-family:'Liberation Serif',serif;font-size:9.5px" fill="#222" text-anchor="middle" >6</text>
<text x="394.94" y="402.70" style="font-family:'Liberation Serif',serif;font-size:9.5px" fill="#222" text-anchor="middle" >9</text>
<text x="434.72" y="402.70" style="font-family:'Liberation Serif',serif;font-size:9.5px" fill="#222" text-anchor="middle" >12</text>
<text x="474.50" y="402.70" style="font-family:'Liberation Serif',serif;font-size:9.5px" fill="#222" text-anchor="middle" >15</text>
<text x="377.95" y="417.6" style="font-family:'Liberation Sans',sans-serif;font-size:11.5px" fill="#222" text-anchor="middle" textLength="21.3" lengthAdjust="spacingAndGlyphs"><tspan font-style="italic">T</tspan> (K)</text>
<text x="255.2" y="341.3" style="font-family:'Liberation Sans',sans-serif;font-size:11.8px" fill="#222" textLength="36.0" lengthAdjust="spacingAndGlyphs" transform="rotate(-90 255.2 341.3)"><tspan font-style="italic">C</tspan> (J mol</text>
<text x="246.6" y="304.2" style="font-family:'Liberation Sans',sans-serif;font-size:8.2px" fill="#222" textLength="6.2" lengthAdjust="spacingAndGlyphs" transform="rotate(-90 246.6 304.2)">-1</text>
<text x="255.2" y="296.0" style="font-family:'Liberation Sans',sans-serif;font-size:11.8px" fill="#222" textLength="7.6" lengthAdjust="spacingAndGlyphs" transform="rotate(-90 255.2 296.0)">K</text>
<text x="246.6" y="287.2" style="font-family:'Liberation Sans',sans-serif;font-size:8.2px" fill="#222" textLength="6.2" lengthAdjust="spacingAndGlyphs" transform="rotate(-90 246.6 287.2)">-1</text>
<text x="255.2" y="280.0" style="font-family:'Liberation Sans',sans-serif;font-size:11.8px" fill="#222" textLength="3.8" lengthAdjust="spacingAndGlyphs" transform="rotate(-90 255.2 280.0)">)</text>
<text x="411.10" y="362.30" style="font-family:'Liberation Serif',serif;font-size:14px" fill="#111" textLength="32.30" lengthAdjust="spacingAndGlyphs" >GdTe</text>
<text x="443.40" y="367.00" style="font-family:'Liberation Serif',serif;font-size:9px" fill="#111" >3</text>
<line x1="399.50" y1="422.20" x2="402.50" y2="422.20" stroke="#c8c8c8" stroke-width="0.8" />
<line x1="412.50" y1="422.20" x2="415.50" y2="422.20" stroke="#c8c8c8" stroke-width="0.8" />
<polyline points="302.50,378.90 305.19,376.34 307.88,373.78 310.57,371.03 313.26,368.21 315.95,365.38 318.64,362.56 321.33,359.77 324.02,357.08 326.71,354.39 329.40,351.97 332.09,349.55 334.78,347.50 337.47,345.56 340.16,343.69 342.85,341.45 345.54,338.78 348.23,336.90 350.92,335.01 353.61,333.03 356.30,331.04 360.00,328.30 362.70,326.30 365.40,324.60 368.20,322.50 370.90,320.10 373.60,317.70 376.50,315.40 379.20,313.00 381.90,310.10 384.50,307.40 387.10,304.80 389.80,301.60 392.50,298.30 395.30,294.70 398.00,290.80 400.80,286.80 403.30,282.40 406.20,277.50 408.80,271.30 411.50,270.30 414.20,270.40 417.10,268.30 419.80,265.70 422.50,261.80 425.10,255.90 427.80,248.00 430.40,255.30 433.30,281.80 435.90,289.50 438.60,295.10 441.40,299.50 444.20,303.30 446.90,306.00 449.50,308.30 452.40,310.40 455.10,312.10 457.90,313.60 460.70,314.80 463.40,315.80 466.00,316.30 468.90,316.90 471.60,317.20 474.20,317.40" fill="none" stroke="#8a8a8a" stroke-width="0.5" stroke-linejoin="round" stroke-linecap="round" />
<g fill="#0e0e72" stroke="#07073a" stroke-width="0.4"><circle cx="302.50" cy="378.90" r="1.8"/><circle cx="305.19" cy="376.34" r="1.8"/><circle cx="307.88" cy="373.78" r="1.8"/><circle cx="310.57" cy="371.03" r="1.8"/><circle cx="313.26" cy="368.21" r="1.8"/><circle cx="315.95" cy="365.38" r="1.8"/><circle cx="318.64" cy="362.56" r="1.8"/><circle cx="321.33" cy="359.77" r="1.8"/><circle cx="324.02" cy="357.08" r="1.8"/><circle cx="326.71" cy="354.39" r="1.8"/><circle cx="329.40" cy="351.97" r="1.8"/><circle cx="332.09" cy="349.55" r="1.8"/><circle cx="334.78" cy="347.50" r="1.8"/><circle cx="337.47" cy="345.56" r="1.8"/><circle cx="340.16" cy="343.69" r="1.8"/><circle cx="342.85" cy="341.45" r="1.8"/><circle cx="345.54" cy="338.78" r="1.8"/><circle cx="348.23" cy="336.90" r="1.8"/><circle cx="350.92" cy="335.01" r="1.8"/><circle cx="353.61" cy="333.03" r="1.8"/><circle cx="356.30" cy="331.04" r="1.8"/><circle cx="360.00" cy="328.30" r="1.8"/><circle cx="362.70" cy="326.30" r="1.8"/><circle cx="365.40" cy="324.60" r="1.8"/><circle cx="368.20" cy="322.50" r="1.8"/><circle cx="370.90" cy="320.10" r="1.8"/><circle cx="373.60" cy="317.70" r="1.8"/><circle cx="376.50" cy="315.40" r="1.8"/><circle cx="379.20" cy="313.00" r="1.8"/><circle cx="381.90" cy="310.10" r="1.8"/><circle cx="384.50" cy="307.40" r="1.8"/><circle cx="387.10" cy="304.80" r="1.8"/><circle cx="389.80" cy="301.60" r="1.8"/><circle cx="392.50" cy="298.30" r="1.8"/><circle cx="395.30" cy="294.70" r="1.8"/><circle cx="398.00" cy="290.80" r="1.8"/><circle cx="400.80" cy="286.80" r="1.8"/><circle cx="403.30" cy="282.40" r="1.8"/><circle cx="406.20" cy="277.50" r="1.8"/><circle cx="408.80" cy="271.30" r="1.8"/><circle cx="411.50" cy="270.30" r="1.8"/><circle cx="414.20" cy="270.40" r="1.8"/><circle cx="417.10" cy="268.30" r="1.8"/><circle cx="419.80" cy="265.70" r="1.8"/><circle cx="422.50" cy="261.80" r="1.8"/><circle cx="425.10" cy="255.90" r="1.8"/><circle cx="427.80" cy="248.00" r="1.8"/><circle cx="430.40" cy="255.30" r="1.8"/><circle cx="433.30" cy="281.80" r="1.8"/><circle cx="435.90" cy="289.50" r="1.8"/><circle cx="438.60" cy="295.10" r="1.8"/><circle cx="441.40" cy="299.50" r="1.8"/><circle cx="444.20" cy="303.30" r="1.8"/><circle cx="446.90" cy="306.00" r="1.8"/><circle cx="449.50" cy="308.30" r="1.8"/><circle cx="452.40" cy="310.40" r="1.8"/><circle cx="455.10" cy="312.10" r="1.8"/><circle cx="457.90" cy="313.60" r="1.8"/><circle cx="460.70" cy="314.80" r="1.8"/><circle cx="463.40" cy="315.80" r="1.8"/><circle cx="466.00" cy="316.30" r="1.8"/><circle cx="468.90" cy="316.90" r="1.8"/><circle cx="471.60" cy="317.20" r="1.8"/><circle cx="474.20" cy="317.40" r="1.8"/></g>
<rect x="307.4" y="240.4" width="66.1" height="59.0" fill="#fff" stroke="#555555" stroke-width="0.8"/>
<line x1="323.92" y1="299.40" x2="323.92" y2="297.40" stroke="#555555" stroke-width="0.7" />
<line x1="323.92" y1="240.40" x2="323.92" y2="242.40" stroke="#555555" stroke-width="0.7" />
<line x1="340.44" y1="299.40" x2="340.44" y2="297.40" stroke="#555555" stroke-width="0.7" />
<line x1="340.44" y1="240.40" x2="340.44" y2="242.40" stroke="#555555" stroke-width="0.7" />
<line x1="356.96" y1="299.40" x2="356.96" y2="297.40" stroke="#555555" stroke-width="0.7" />
<line x1="356.96" y1="240.40" x2="356.96" y2="242.40" stroke="#555555" stroke-width="0.7" />
<line x1="307.40" y1="284.65" x2="309.40" y2="284.65" stroke="#555555" stroke-width="0.7" />
<line x1="373.50" y1="284.65" x2="371.50" y2="284.65" stroke="#555555" stroke-width="0.7" />
<line x1="307.40" y1="269.90" x2="309.40" y2="269.90" stroke="#555555" stroke-width="0.7" />
<line x1="373.50" y1="269.90" x2="371.50" y2="269.90" stroke="#555555" stroke-width="0.7" />
<line x1="307.40" y1="255.15" x2="309.40" y2="255.15" stroke="#555555" stroke-width="0.7" />
<line x1="373.50" y1="255.15" x2="371.50" y2="255.15" stroke="#555555" stroke-width="0.7" />
<text x="303.90" y="301.60" style="font-family:'Liberation Serif',serif;font-size:6.6px" fill="#333" text-anchor="end" >0.0</text>
<text x="303.90" y="286.85" style="font-family:'Liberation Serif',serif;font-size:6.6px" fill="#333" text-anchor="end" >0.5</text>
<text x="303.90" y="272.10" style="font-family:'Liberation Serif',serif;font-size:6.6px" fill="#333" text-anchor="end" >1.0</text>
<text x="303.90" y="257.35" style="font-family:'Liberation Serif',serif;font-size:6.6px" fill="#333" text-anchor="end" >1.5</text>
<text x="303.90" y="242.60" style="font-family:'Liberation Serif',serif;font-size:6.6px" fill="#333" text-anchor="end" >2.0</text>
<text x="307.40" y="310.30" style="font-family:'Liberation Serif',serif;font-size:6.6px" fill="#333" text-anchor="middle" >0</text>
<text x="323.92" y="310.30" style="font-family:'Liberation Serif',serif;font-size:6.6px" fill="#333" text-anchor="middle" >4</text>
<text x="340.44" y="310.30" style="font-family:'Liberation Serif',serif;font-size:6.6px" fill="#333" text-anchor="middle" >8</text>
<text x="356.96" y="310.30" style="font-family:'Liberation Serif',serif;font-size:6.6px" fill="#333" text-anchor="middle" >12</text>
<text x="373.48" y="310.30" style="font-family:'Liberation Serif',serif;font-size:6.6px" fill="#333" text-anchor="middle" >16</text>
<text x="339.9" y="323.6" style="font-family:'Liberation Sans',sans-serif;font-size:8.6px" fill="#333" text-anchor="middle" textLength="14" lengthAdjust="spacingAndGlyphs"><tspan font-style="italic">T</tspan> (K)</text>
<text x="291.4" y="292.2" style="font-family:'Liberation Sans',sans-serif;font-size:7.6px" fill="#333" textLength="23.5" lengthAdjust="spacingAndGlyphs" transform="rotate(-90 291.4 292.2)"><tspan font-style="italic">C</tspan> (J mol</text>
<text x="286.0" y="268.4" style="font-family:'Liberation Sans',sans-serif;font-size:5.4px" fill="#333" textLength="4.4" lengthAdjust="spacingAndGlyphs" transform="rotate(-90 286.0 268.4)">-1</text>
<text x="291.4" y="263.0" style="font-family:'Liberation Sans',sans-serif;font-size:7.6px" fill="#333" textLength="5.0" lengthAdjust="spacingAndGlyphs" transform="rotate(-90 291.4 263.0)">K</text>
<text x="286.0" y="257.6" style="font-family:'Liberation Sans',sans-serif;font-size:5.4px" fill="#333" textLength="4.4" lengthAdjust="spacingAndGlyphs" transform="rotate(-90 286.0 257.6)">-2</text>
<text x="291.4" y="252.8" style="font-family:'Liberation Sans',sans-serif;font-size:7.6px" fill="#333" textLength="2.6" lengthAdjust="spacingAndGlyphs" transform="rotate(-90 291.4 252.8)">)</text>
<polyline points="315.78,280.88 316.62,277.98 317.45,275.57 318.29,273.23 319.13,271.12 319.97,269.30 320.81,267.70 321.64,266.33 322.48,265.22 323.32,264.23 324.16,263.61 324.99,263.04 325.83,262.86 326.67,262.78 327.51,262.78 328.35,262.47 329.18,261.87 330.02,261.89 330.86,261.90 331.70,261.84 332.54,261.79 333.69,261.72 334.53,261.67 335.37,261.80 336.24,261.74 337.08,261.47 337.92,261.22 338.83,261.10 339.67,260.87 340.51,260.41 341.32,260.02 342.13,259.71 342.97,259.16 343.81,258.59 344.68,257.95 345.52,257.18 346.40,256.43 347.17,255.44 348.08,254.43 348.89,252.84 349.73,253.38 350.57,254.31 351.47,254.45 352.31,254.34 353.15,253.76 353.96,252.46 354.80,250.54 355.61,253.86 356.52,263.60 357.33,266.73 358.17,269.09 359.04,271.01 359.91,272.68 360.75,273.93 361.56,275.02 362.47,276.05 363.31,276.90 364.18,277.68 365.05,278.35 365.89,278.94 366.70,279.36 367.61,279.82 368.45,280.17 369.26,280.48" fill="none" stroke="#8080c0" stroke-width="0.5" stroke-linejoin="round" stroke-linecap="round" />
<g fill="#7a0c0c" stroke="#3a0505" stroke-width="0.3"><circle cx="315.78" cy="280.88" r="1.05"/><circle cx="316.62" cy="277.98" r="1.05"/><circle cx="317.45" cy="275.57" r="1.05"/><circle cx="318.29" cy="273.23" r="1.05"/><circle cx="319.13" cy="271.12" r="1.05"/><circle cx="319.97" cy="269.30" r="1.05"/><circle cx="320.81" cy="267.70" r="1.05"/><circle cx="321.64" cy="266.33" r="1.05"/><circle cx="322.48" cy="265.22" r="1.05"/><circle cx="323.32" cy="264.23" r="1.05"/><circle cx="324.16" cy="263.61" r="1.05"/><circle cx="324.99" cy="263.04" r="1.05"/><circle cx="325.83" cy="262.86" r="1.05"/><circle cx="326.67" cy="262.78" r="1.05"/><circle cx="327.51" cy="262.78" r="1.05"/><circle cx="328.35" cy="262.47" r="1.05"/><circle cx="329.18" cy="261.87" r="1.05"/><circle cx="330.02" cy="261.89" r="1.05"/><circle cx="330.86" cy="261.90" r="1.05"/><circle cx="331.70" cy="261.84" r="1.05"/><circle cx="332.54" cy="261.79" r="1.05"/><circle cx="333.69" cy="261.72" r="1.05"/><circle cx="334.53" cy="261.67" r="1.05"/><circle cx="335.37" cy="261.80" r="1.05"/><circle cx="336.24" cy="261.74" r="1.05"/><circle cx="337.08" cy="261.47" r="1.05"/><circle cx="337.92" cy="261.22" r="1.05"/><circle cx="338.83" cy="261.10" r="1.05"/><circle cx="339.67" cy="260.87" r="1.05"/><circle cx="340.51" cy="260.41" r="1.05"/><circle cx="341.32" cy="260.02" r="1.05"/><circle cx="342.13" cy="259.71" r="1.05"/><circle cx="342.97" cy="259.16" r="1.05"/><circle cx="343.81" cy="258.59" r="1.05"/><circle cx="344.68" cy="257.95" r="1.05"/><circle cx="345.52" cy="257.18" r="1.05"/><circle cx="346.40" cy="256.43" r="1.05"/><circle cx="347.17" cy="255.44" r="1.05"/><circle cx="348.08" cy="254.43" r="1.05"/><circle cx="348.89" cy="252.84" r="1.05"/><circle cx="349.73" cy="253.38" r="1.05"/><circle cx="350.57" cy="254.31" r="1.05"/><circle cx="351.47" cy="254.45" r="1.05"/><circle cx="352.31" cy="254.34" r="1.05"/><circle cx="353.15" cy="253.76" r="1.05"/><circle cx="353.96" cy="252.46" r="1.05"/><circle cx="354.80" cy="250.54" r="1.05"/><circle cx="355.61" cy="253.86" r="1.05"/><circle cx="356.52" cy="263.60" r="1.05"/><circle cx="357.33" cy="266.73" r="1.05"/><circle cx="358.17" cy="269.09" r="1.05"/><circle cx="359.04" cy="271.01" r="1.05"/><circle cx="359.91" cy="272.68" r="1.05"/><circle cx="360.75" cy="273.93" r="1.05"/><circle cx="361.56" cy="275.02" r="1.05"/><circle cx="362.47" cy="276.05" r="1.05"/><circle cx="363.31" cy="276.90" r="1.05"/><circle cx="364.18" cy="277.68" r="1.05"/><circle cx="365.05" cy="278.35" r="1.05"/><circle cx="365.89" cy="278.94" r="1.05"/><circle cx="366.70" cy="279.36" r="1.05"/><circle cx="367.61" cy="279.82" r="1.05"/><circle cx="368.45" cy="280.17" r="1.05"/><circle cx="369.26" cy="280.48" r="1.05"/></g>
<text x="501.80" y="225.30" style="font-family:'Liberation Sans',sans-serif;font-size:12.0px" fill="#111" textLength="9.60" lengthAdjust="spacingAndGlyphs" >(f)</text>
<g clip-path="url(#dia)" fill="none" stroke-linecap="round">
<path d="M568.64,238.83 C568.88,239.07 568.69,239.26 570.09,240.25 C571.50,241.24 574.74,243.13 577.08,244.77 C579.43,246.41 582.19,248.34 584.16,250.09 C586.13,251.83 587.17,253.11 588.88,255.23 C590.59,257.34 592.80,260.50 594.42,262.76 C596.03,265.02 597.32,266.83 598.59,268.78 C599.86,270.73 600.53,272.30 602.04,274.45 C603.55,276.61 605.94,279.71 607.67,281.72 C609.39,283.72 610.78,284.94 612.38,286.50 C613.99,288.07 615.23,289.42 617.28,291.11 C619.34,292.79 622.52,295.12 624.73,296.60 C626.93,298.08 628.54,298.73 630.53,299.97 C632.53,301.21 634.39,302.46 636.71,304.04 C639.02,305.62 642.26,307.78 644.42,309.45 C646.58,311.12 647.90,312.14 649.68,314.06 C651.47,315.98 653.45,318.68 655.13,320.97 C656.81,323.26 658.74,326.42 659.76,327.79 C660.77,329.16 660.97,328.97 661.21,329.21" stroke="#a9d08e" stroke-width="2.3"/>
<path d="M606.76,238.83 C606.52,239.07 606.71,239.26 605.31,240.25 C603.90,241.24 600.66,243.13 598.32,244.77 C595.97,246.41 593.21,248.34 591.24,250.09 C589.27,251.83 588.23,253.11 586.52,255.23 C584.81,257.34 582.60,260.50 580.98,262.76 C579.37,265.02 578.08,266.83 576.81,268.78 C575.54,270.73 574.87,272.30 573.36,274.45 C571.85,276.61 569.46,279.71 567.74,281.72 C566.01,283.72 564.62,284.94 563.02,286.50 C561.41,288.07 560.17,289.42 558.12,291.11 C556.06,292.79 552.88,295.12 550.67,296.60 C548.47,298.08 546.86,298.73 544.87,299.97 C542.87,301.21 541.01,302.46 538.70,304.04 C536.38,305.62 533.14,307.78 530.98,309.45 C528.82,311.12 527.50,312.14 525.72,314.06 C523.93,315.98 521.95,318.68 520.27,320.97 C518.59,323.26 516.66,326.42 515.64,327.79 C514.63,329.16 514.43,328.97 514.19,329.21" stroke="#a9d08e" stroke-width="2.3"/>
<path d="M568.64,382.37 C568.88,382.13 568.69,381.94 570.09,380.95 C571.50,379.96 574.74,378.07 577.08,376.43 C579.43,374.79 582.19,372.86 584.16,371.11 C586.13,369.37 587.17,368.09 588.88,365.98 C590.59,363.86 592.80,360.70 594.42,358.44 C596.03,356.18 597.32,354.37 598.59,352.42 C599.86,350.47 600.53,348.90 602.04,346.75 C603.55,344.59 605.94,341.49 607.67,339.48 C609.39,337.48 610.78,336.26 612.38,334.70 C613.99,333.13 615.23,331.78 617.28,330.09 C619.34,328.41 622.52,326.08 624.73,324.60 C626.93,323.12 628.54,322.47 630.53,321.23 C632.53,319.99 634.39,318.74 636.71,317.16 C639.02,315.58 642.26,313.42 644.42,311.75 C646.58,310.08 647.90,309.06 649.68,307.14 C651.47,305.22 653.45,302.52 655.13,300.23 C656.81,297.94 658.74,294.78 659.76,293.41 C660.77,292.04 660.97,292.23 661.21,291.99" stroke="#a9d08e" stroke-width="2.3"/>
<path d="M606.76,382.37 C606.52,382.13 606.71,381.94 605.31,380.95 C603.90,379.96 600.66,378.07 598.32,376.43 C595.97,374.79 593.21,372.86 591.24,371.11 C589.27,369.37 588.23,368.09 586.52,365.98 C584.81,363.86 582.60,360.70 580.98,358.44 C579.37,356.18 578.08,354.37 576.81,352.42 C575.54,350.47 574.87,348.90 573.36,346.75 C571.85,344.59 569.46,341.49 567.74,339.48 C566.01,337.48 564.62,336.26 563.02,334.70 C561.41,333.13 560.17,331.78 558.12,330.09 C556.06,328.41 552.88,326.08 550.67,324.60 C548.47,323.12 546.86,322.47 544.87,321.23 C542.87,319.99 541.01,318.74 538.70,317.16 C536.38,315.58 533.14,313.42 530.98,311.75 C528.82,310.08 527.50,309.06 525.72,307.14 C523.93,305.22 521.95,302.52 520.27,300.23 C518.59,297.94 516.66,294.78 515.64,293.41 C514.63,292.04 514.43,292.23 514.19,291.99" stroke="#a9d08e" stroke-width="2.3"/>
<path d="M557.75,249.47 C557.99,249.70 557.80,249.89 559.20,250.88 C560.61,251.87 563.85,253.76 566.19,255.40 C568.54,257.04 571.30,258.98 573.27,260.72 C575.24,262.46 576.28,263.75 577.99,265.86 C579.70,267.97 581.91,271.13 583.53,273.39 C585.14,275.65 586.43,277.46 587.70,279.41 C588.97,281.36 589.64,282.93 591.15,285.08 C592.66,287.24 595.05,290.34 596.78,292.35 C598.50,294.36 599.89,295.57 601.49,297.13 C603.10,298.70 604.34,300.06 606.39,301.74 C608.45,303.42 611.63,305.76 613.84,307.23 C616.04,308.71 617.65,309.36 619.64,310.60 C621.64,311.84 623.50,313.10 625.82,314.68 C628.13,316.26 631.37,318.41 633.53,320.08 C635.69,321.75 637.01,322.77 638.79,324.69 C640.58,326.61 642.56,329.31 644.24,331.60 C645.92,333.89 647.85,337.05 648.87,338.42 C649.88,339.79 650.08,339.60 650.32,339.84" stroke="#00ad4f" stroke-width="2.6"/>
<path d="M617.65,249.47 C617.41,249.70 617.60,249.89 616.20,250.88 C614.79,251.87 611.55,253.76 609.21,255.40 C606.86,257.04 604.10,258.98 602.13,260.72 C600.16,262.46 599.12,263.75 597.41,265.86 C595.70,267.97 593.49,271.13 591.87,273.39 C590.26,275.65 588.97,277.46 587.70,279.41 C586.43,281.36 585.76,282.93 584.25,285.08 C582.74,287.24 580.35,290.34 578.62,292.35 C576.90,294.36 575.51,295.57 573.91,297.13 C572.30,298.70 571.06,300.06 569.01,301.74 C566.95,303.42 563.77,305.76 561.56,307.23 C559.36,308.71 557.75,309.36 555.76,310.60 C553.76,311.84 551.90,313.10 549.59,314.68 C547.27,316.26 544.03,318.41 541.87,320.08 C539.71,321.75 538.39,322.77 536.61,324.69 C534.82,326.61 532.84,329.31 531.16,331.60 C529.48,333.89 527.55,337.05 526.53,338.42 C525.52,339.79 525.32,339.60 525.08,339.84" stroke="#00ad4f" stroke-width="2.6"/>
<path d="M557.75,371.73 C557.99,371.50 557.80,371.31 559.20,370.32 C560.61,369.33 563.85,367.44 566.19,365.80 C568.54,364.16 571.30,362.22 573.27,360.48 C575.24,358.74 576.28,357.45 577.99,355.34 C579.70,353.23 581.91,350.07 583.53,347.81 C585.14,345.55 586.43,343.74 587.70,341.79 C588.97,339.84 589.64,338.27 591.15,336.12 C592.66,333.96 595.05,330.86 596.78,328.85 C598.50,326.84 599.89,325.63 601.49,324.07 C603.10,322.50 604.34,321.14 606.39,319.46 C608.45,317.78 611.63,315.44 613.84,313.97 C616.04,312.49 617.65,311.84 619.64,310.60 C621.64,309.36 623.50,308.10 625.82,306.52 C628.13,304.94 631.37,302.79 633.53,301.12 C635.69,299.45 637.01,298.43 638.79,296.51 C640.58,294.59 642.56,291.89 644.24,289.60 C645.92,287.31 647.85,284.15 648.87,282.78 C649.88,281.41 650.08,281.60 650.32,281.36" stroke="#00ad4f" stroke-width="2.6"/>
<path d="M617.65,371.73 C617.41,371.50 617.60,371.31 616.20,370.32 C614.79,369.33 611.55,367.44 609.21,365.80 C606.86,364.16 604.10,362.22 602.13,360.48 C600.16,358.74 599.12,357.45 597.41,355.34 C595.70,353.23 593.49,350.07 591.87,347.81 C590.26,345.55 588.97,343.74 587.70,341.79 C586.43,339.84 585.76,338.27 584.25,336.12 C582.74,333.96 580.35,330.86 578.62,328.85 C576.90,326.84 575.51,325.63 573.91,324.07 C572.30,322.50 571.06,321.14 569.01,319.46 C566.95,317.78 563.77,315.44 561.56,313.97 C559.36,312.49 557.75,311.84 555.76,310.60 C553.76,309.36 551.90,308.10 549.59,306.52 C547.27,304.94 544.03,302.79 541.87,301.12 C539.71,299.45 538.39,298.43 536.61,296.51 C534.82,294.59 532.84,291.89 531.16,289.60 C529.48,287.31 527.55,284.15 526.53,282.78 C525.52,281.41 525.32,281.60 525.08,281.36" stroke="#00ad4f" stroke-width="2.6"/>
</g>
<rect x="543.3" y="266.9" width="89.4" height="87.6" fill="none" stroke="#e8323c" stroke-width="1.6"/>
<polygon points="587.7,222 678.45,310.6 587.7,399.2 496.95,310.6" fill="none" stroke="#2e5394" stroke-width="1.7" stroke-linejoin="miter"/>
<line x1="582.10" y1="348.40" x2="582.10" y2="293.50" stroke="#ee10ee" stroke-width="1.8" />
<polygon points="582.1,289.2 579.7,294.8 584.5,294.8" fill="#ee10ee"/>
<text x="575.0" y="316.4" style="font-family:'Liberation Serif',serif;font-size:9.5px;font-style:italic" fill="#d24be8">q</text>
<text x="544.9" y="276.9" style="font-family:'Liberation Serif',serif;font-size:9px;font-weight:bold" fill="#e6141e" textLength="6.6" lengthAdjust="spacingAndGlyphs">M</text>
<line x1="545.30" y1="269.70" x2="551.10" y2="269.70" stroke="#e6141e" stroke-width="0.6" />
<text x="585.3" y="276.9" style="font-family:'Liberation Serif',serif;font-size:9px;font-weight:bold" fill="#e6141e" textLength="4.8" lengthAdjust="spacingAndGlyphs">Z</text>
<line x1="585.70" y1="269.70" x2="589.70" y2="269.70" stroke="#e6141e" stroke-width="0.6" />
<text x="545.3" y="314.3" style="font-family:'Liberation Serif',serif;font-size:9px;font-weight:bold;font-style:italic" fill="#e6141e" textLength="5.2" lengthAdjust="spacingAndGlyphs">X</text>
<text x="585.0" y="314.6" style="font-family:'Liberation Serif',serif;font-size:9px;font-weight:bold" fill="#e6141e" textLength="5.0" lengthAdjust="spacingAndGlyphs">Γ</text>
<line x1="585.40" y1="307.40" x2="589.60" y2="307.40" stroke="#e6141e" stroke-width="0.6" />
<text x="532.3" y="261.2" style="font-family:'Liberation Sans',sans-serif;font-size:10.2px" fill="#1a1a1a" text-anchor="middle" textLength="40.5" lengthAdjust="spacingAndGlyphs" transform="rotate(-45.7 532.3 261.2)">non-CDW</text>
<text x="634.90" y="241.80" style="font-family:'Liberation Sans',sans-serif;font-size:7.6px" fill="#b98b06" textLength="39.50" lengthAdjust="spacingAndGlyphs" >Unfolded BZ</text>
<text x="647.20" y="265.60" style="font-family:'Liberation Sans',sans-serif;font-size:7.6px" fill="#b98b06" textLength="33.40" lengthAdjust="spacingAndGlyphs" >Folded BZ</text>
<line x1="632.50" y1="240.40" x2="623.21" y2="249.48" stroke="#b98b06" stroke-width="1.4" />
<polygon points="619.70,252.90 621.82,247.34 625.31,250.92" fill="#b98b06"/>
<line x1="647.00" y1="264.20" x2="636.42" y2="275.69" stroke="#b98b06" stroke-width="1.4" />
<polygon points="633.10,279.30 634.92,273.63 638.60,277.02" fill="#b98b06"/>
<path d="M519.1,358.6 V372.5 H533.8" fill="none" stroke="#000" stroke-width="2.2"/>
<polygon points="519.1,354.6 516.5,359.6 521.7,359.6" fill="#000"/>
<polygon points="538.0,372.5 533.0,369.9 533.0,375.1" fill="#000"/>
<text x="516.6" y="349.5" style="font-family:'Liberation Serif',serif;font-size:10px;font-style:italic;font-weight:bold" fill="#111">k</text>
<text x="521.9" y="351.6" style="font-family:'Liberation Serif',serif;font-size:6.8px;font-style:italic;font-weight:bold" fill="#111">z</text>
<text x="539.5" y="374.9" style="font-family:'Liberation Serif',serif;font-size:10px;font-style:italic;font-weight:bold" fill="#111">k</text>
<text x="544.9" y="377.0" style="font-family:'Liberation Serif',serif;font-size:6.8px;font-style:italic;font-weight:bold" fill="#111">x</text>
</svg>
</body></html>
